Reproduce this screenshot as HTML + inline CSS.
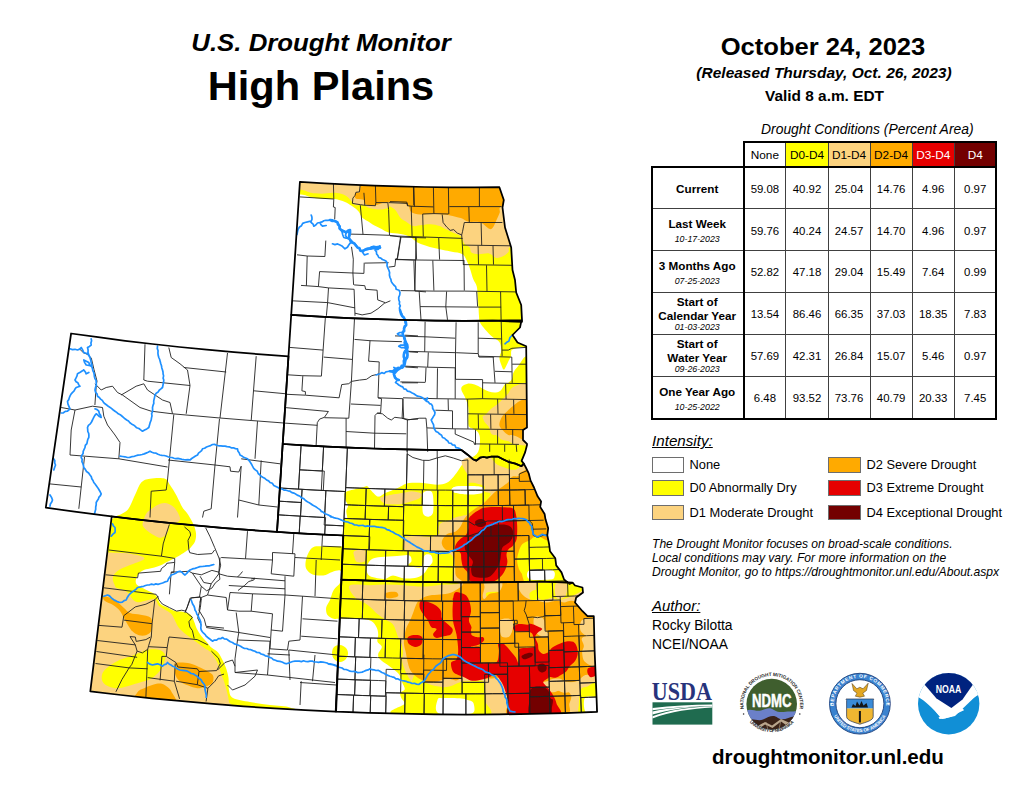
<!DOCTYPE html>
<html><head><meta charset="utf-8"><title>U.S. Drought Monitor - High Plains</title>
<style>
html,body{margin:0;padding:0;background:#fff}
body{width:1024px;height:791px;position:relative;overflow:hidden;font-family:"Liberation Sans",sans-serif;color:#000}
.t{position:absolute;white-space:nowrap;line-height:1}
.c{text-align:center}

</style></head><body>
<svg width="640" height="791" viewBox="0 0 640 791" style="position:absolute;left:0;top:0">
<defs><clipPath id="st">
<path d="M299.9 181.8 L324.8 183.3 L349.7 184.6 L374.6 185.7 L399.6 186.4 L424.6 187.0 L449.5 187.3 L474.5 187.4 L499.4 187.2 L503.8 200.0 L502.5 207.5 L505.0 227.5 L511.2 247.5 L512.5 270.0 L515.0 280.0 L516.2 292.5 L521.2 305.0 L522.0 320.0 L522.0 321.8 L492.7 320.7 L463.9 320.8 L435.1 320.6 L406.3 320.0 L377.5 319.2 L348.7 318.1 L319.9 316.7 L291.2 314.9Z"/>
<path d="M291.2 314.9 L319.9 316.7 L348.7 318.1 L377.5 319.2 L406.3 320.0 L435.1 320.6 L463.9 320.8 L492.7 320.7 L521.5 320.3 L520.0 327.5 L512.5 335.0 L517.5 342.5 L526.2 346.2 L527.0 427.5 L523.0 430.0 L523.0 440.0 L527.0 443.8 L527.0 445.0 L525.2 452.1 L521.6 460.9 L523.8 463.6 L521.5 466.2 L515.4 463.6 L508.3 461.8 L503.0 459.2 L497.7 456.5 L491.5 456.5 L487.0 457.7 L483.5 457.0 L480.0 457.7 L476.4 460.6 L472.9 459.2 L467.6 454.7 L463.1 451.2 L461.4 450.1 L439.1 450.0 L416.7 449.7 L394.4 449.2 L372.0 448.5 L349.7 447.6 L327.4 446.6 L305.0 445.4 L282.7 444.0Z"/>
<path d="M282.7 444.0 L305.0 445.4 L327.4 446.6 L349.7 447.6 L372.0 448.5 L394.4 449.2 L416.7 449.7 L439.1 450.0 L461.4 450.1 L463.1 451.2 L467.6 454.7 L472.9 459.2 L476.4 460.6 L480.0 457.7 L483.5 457.0 L487.0 457.7 L491.5 456.5 L497.7 456.5 L503.0 459.2 L508.3 461.8 L515.4 463.6 L521.5 466.2 L523.8 463.6 L526.1 468.0 L528.7 473.3 L530.5 480.4 L534.0 487.5 L537.6 496.3 L541.1 501.6 L540.2 506.9 L544.6 514.0 L545.5 519.3 L548.2 528.2 L547.3 535.3 L549.1 544.1 L550.0 551.2 L555.3 558.3 L556.2 565.4 L561.5 572.4 L564.1 579.5 L569.4 583.9 L572.5 582.8 L540.1 581.5 L511.7 582.0 L483.3 582.3 L454.9 582.3 L426.6 582.0 L398.2 581.5 L369.8 580.6 L341.4 579.6 L343.3 535.5 L321.2 534.5 L299.1 533.3 L277.0 531.9Z"/>
<path d="M341.4 579.6 L369.8 580.6 L398.2 581.5 L426.6 582.0 L454.9 582.3 L483.3 582.3 L511.7 582.0 L540.1 581.5 L572.5 582.5 L575.0 585.5 L582.5 587.5 L583.0 592.5 L576.2 597.5 L575.0 602.5 L582.5 611.2 L587.5 616.2 L593.8 616.2 L594.6 650.3 L595.9 681.1 L597.1 711.9 L564.5 713.1 L531.9 713.9 L499.2 714.4 L466.6 714.5 L433.9 714.3 L401.3 713.7 L368.7 712.9 L336.1 711.6Z"/>
<path d="M71.1 333.5 L98.1 337.2 L125.2 340.8 L152.4 344.0 L179.5 347.0 L206.7 349.7 L234.0 352.2 L261.2 354.4 L288.5 356.3 L285.6 400.1 L282.7 444.0 L279.9 488.0 L277.0 531.9 L248.0 529.9 L219.0 527.6 L190.1 525.0 L161.2 522.1 L132.3 518.9 L103.4 515.4 L74.6 511.7 L45.8 507.7Z"/>
<path d="M111.7 516.5 L140.5 519.8 L169.4 522.9 L198.3 525.7 L227.3 528.3 L256.3 530.5 L285.3 532.5 L314.3 534.1 L343.3 535.5 L341.4 579.6 L339.5 623.6 L337.6 667.6 L335.7 711.6 L305.3 710.2 L274.5 708.4 L243.7 706.3 L213.0 703.9 L182.3 701.2 L151.6 698.3 L120.9 695.0 L90.3 691.4Z"/>
</clipPath>
<clipPath id="cND"><path d="M299.9 181.8 L324.8 183.3 L349.7 184.6 L374.6 185.7 L399.6 186.4 L424.6 187.0 L449.5 187.3 L474.5 187.4 L499.4 187.2 L503.8 200.0 L502.5 207.5 L505.0 227.5 L511.2 247.5 L512.5 270.0 L515.0 280.0 L516.2 292.5 L521.2 305.0 L522.0 320.0 L522.0 321.8 L492.7 320.7 L463.9 320.8 L435.1 320.6 L406.3 320.0 L377.5 319.2 L348.7 318.1 L319.9 316.7 L291.2 314.9Z"/></clipPath>
<clipPath id="cSD"><path d="M291.2 314.9 L319.9 316.7 L348.7 318.1 L377.5 319.2 L406.3 320.0 L435.1 320.6 L463.9 320.8 L492.7 320.7 L521.5 320.3 L520.0 327.5 L512.5 335.0 L517.5 342.5 L526.2 346.2 L527.0 427.5 L523.0 430.0 L523.0 440.0 L527.0 443.8 L527.0 445.0 L525.2 452.1 L521.6 460.9 L523.8 463.6 L521.5 466.2 L515.4 463.6 L508.3 461.8 L503.0 459.2 L497.7 456.5 L491.5 456.5 L487.0 457.7 L483.5 457.0 L480.0 457.7 L476.4 460.6 L472.9 459.2 L467.6 454.7 L463.1 451.2 L461.4 450.1 L439.1 450.0 L416.7 449.7 L394.4 449.2 L372.0 448.5 L349.7 447.6 L327.4 446.6 L305.0 445.4 L282.7 444.0Z"/></clipPath>
<clipPath id="cNE"><path d="M282.7 444.0 L305.0 445.4 L327.4 446.6 L349.7 447.6 L372.0 448.5 L394.4 449.2 L416.7 449.7 L439.1 450.0 L461.4 450.1 L463.1 451.2 L467.6 454.7 L472.9 459.2 L476.4 460.6 L480.0 457.7 L483.5 457.0 L487.0 457.7 L491.5 456.5 L497.7 456.5 L503.0 459.2 L508.3 461.8 L515.4 463.6 L521.5 466.2 L523.8 463.6 L526.1 468.0 L528.7 473.3 L530.5 480.4 L534.0 487.5 L537.6 496.3 L541.1 501.6 L540.2 506.9 L544.6 514.0 L545.5 519.3 L548.2 528.2 L547.3 535.3 L549.1 544.1 L550.0 551.2 L555.3 558.3 L556.2 565.4 L561.5 572.4 L564.1 579.5 L569.4 583.9 L572.5 582.8 L540.1 581.5 L511.7 582.0 L483.3 582.3 L454.9 582.3 L426.6 582.0 L398.2 581.5 L369.8 580.6 L341.4 579.6 L343.3 535.5 L321.2 534.5 L299.1 533.3 L277.0 531.9Z"/></clipPath>
<clipPath id="cKS"><path d="M341.4 579.6 L369.8 580.6 L398.2 581.5 L426.6 582.0 L454.9 582.3 L483.3 582.3 L511.7 582.0 L540.1 581.5 L572.5 582.5 L575.0 585.5 L582.5 587.5 L583.0 592.5 L576.2 597.5 L575.0 602.5 L582.5 611.2 L587.5 616.2 L593.8 616.2 L594.6 650.3 L595.9 681.1 L597.1 711.9 L564.5 713.1 L531.9 713.9 L499.2 714.4 L466.6 714.5 L433.9 714.3 L401.3 713.7 L368.7 712.9 L336.1 711.6Z"/></clipPath>
<clipPath id="cWY"><path d="M71.1 333.5 L98.1 337.2 L125.2 340.8 L152.4 344.0 L179.5 347.0 L206.7 349.7 L234.0 352.2 L261.2 354.4 L288.5 356.3 L285.6 400.1 L282.7 444.0 L279.9 488.0 L277.0 531.9 L248.0 529.9 L219.0 527.6 L190.1 525.0 L161.2 522.1 L132.3 518.9 L103.4 515.4 L74.6 511.7 L45.8 507.7Z"/></clipPath>
<clipPath id="cCO"><path d="M111.7 516.5 L140.5 519.8 L169.4 522.9 L198.3 525.7 L227.3 528.3 L256.3 530.5 L285.3 532.5 L314.3 534.1 L343.3 535.5 L341.4 579.6 L339.5 623.6 L337.6 667.6 L335.7 711.6 L305.3 710.2 L274.5 708.4 L243.7 706.3 L213.0 703.9 L182.3 701.2 L151.6 698.3 L120.9 695.0 L90.3 691.4Z"/></clipPath>
<clipPath id="cNEKS"><path d="M282.7 444.0 L305.0 445.4 L327.4 446.6 L349.7 447.6 L372.0 448.5 L394.4 449.2 L416.7 449.7 L439.1 450.0 L461.4 450.1 L463.1 451.2 L467.6 454.7 L472.9 459.2 L476.4 460.6 L480.0 457.7 L483.5 457.0 L487.0 457.7 L491.5 456.5 L497.7 456.5 L503.0 459.2 L508.3 461.8 L515.4 463.6 L521.5 466.2 L523.8 463.6 L526.1 468.0 L528.7 473.3 L530.5 480.4 L534.0 487.5 L537.6 496.3 L541.1 501.6 L540.2 506.9 L544.6 514.0 L545.5 519.3 L548.2 528.2 L547.3 535.3 L549.1 544.1 L550.0 551.2 L555.3 558.3 L556.2 565.4 L561.5 572.4 L564.1 579.5 L569.4 583.9 L572.5 582.8 L540.1 581.5 L511.7 582.0 L483.3 582.3 L454.9 582.3 L426.6 582.0 L398.2 581.5 L369.8 580.6 L341.4 579.6 L343.3 535.5 L321.2 534.5 L299.1 533.3 L277.0 531.9Z"/><path d="M341.4 579.6 L369.8 580.6 L398.2 581.5 L426.6 582.0 L454.9 582.3 L483.3 582.3 L511.7 582.0 L540.1 581.5 L572.5 582.5 L575.0 585.5 L582.5 587.5 L583.0 592.5 L576.2 597.5 L575.0 602.5 L582.5 611.2 L587.5 616.2 L593.8 616.2 L594.6 650.3 L595.9 681.1 L597.1 711.9 L564.5 713.1 L531.9 713.9 L499.2 714.4 L466.6 714.5 L433.9 714.3 L401.3 713.7 L368.7 712.9 L336.1 711.6Z"/></clipPath>
<clipPath id="cNDSD"><path d="M299.9 181.8 L324.8 183.3 L349.7 184.6 L374.6 185.7 L399.6 186.4 L424.6 187.0 L449.5 187.3 L474.5 187.4 L499.4 187.2 L503.8 200.0 L502.5 207.5 L505.0 227.5 L511.2 247.5 L512.5 270.0 L515.0 280.0 L516.2 292.5 L521.2 305.0 L522.0 320.0 L522.0 321.8 L492.7 320.7 L463.9 320.8 L435.1 320.6 L406.3 320.0 L377.5 319.2 L348.7 318.1 L319.9 316.7 L291.2 314.9Z"/><path d="M291.2 314.9 L319.9 316.7 L348.7 318.1 L377.5 319.2 L406.3 320.0 L435.1 320.6 L463.9 320.8 L492.7 320.7 L521.5 320.3 L520.0 327.5 L512.5 335.0 L517.5 342.5 L526.2 346.2 L527.0 427.5 L523.0 430.0 L523.0 440.0 L527.0 443.8 L527.0 445.0 L525.2 452.1 L521.6 460.9 L523.8 463.6 L521.5 466.2 L515.4 463.6 L508.3 461.8 L503.0 459.2 L497.7 456.5 L491.5 456.5 L487.0 457.7 L483.5 457.0 L480.0 457.7 L476.4 460.6 L472.9 459.2 L467.6 454.7 L463.1 451.2 L461.4 450.1 L439.1 450.0 L416.7 449.7 L394.4 449.2 L372.0 448.5 L349.7 447.6 L327.4 446.6 L305.0 445.4 L282.7 444.0Z"/></clipPath>
<clipPath id="cWYCO"><path d="M71.1 333.5 L98.1 337.2 L125.2 340.8 L152.4 344.0 L179.5 347.0 L206.7 349.7 L234.0 352.2 L261.2 354.4 L288.5 356.3 L285.6 400.1 L282.7 444.0 L279.9 488.0 L277.0 531.9 L248.0 529.9 L219.0 527.6 L190.1 525.0 L161.2 522.1 L132.3 518.9 L103.4 515.4 L74.6 511.7 L45.8 507.7Z"/><path d="M111.7 516.5 L140.5 519.8 L169.4 522.9 L198.3 525.7 L227.3 528.3 L256.3 530.5 L285.3 532.5 L314.3 534.1 L343.3 535.5 L341.4 579.6 L339.5 623.6 L337.6 667.6 L335.7 711.6 L305.3 710.2 L274.5 708.4 L243.7 706.3 L213.0 703.9 L182.3 701.2 L151.6 698.3 L120.9 695.0 L90.3 691.4Z"/></clipPath>
</defs>
<g clip-path="url(#st)">
<path d="M545.0 170.0 C500.8 140.5 324.2 166.0 280.0 170.0 C235.8 174.0 276.5 189.9 280.0 194.0 C283.5 198.1 295.9 194.1 301.0 194.6 C306.1 195.1 307.4 196.5 310.8 197.2 C314.2 197.9 317.7 198.4 321.4 198.7 C325.1 199.0 329.9 198.8 332.9 199.0 C335.8 199.2 336.9 199.3 339.1 199.9 C341.3 200.5 343.8 201.3 346.2 202.5 C348.6 203.7 351.2 205.5 353.3 207.0 C355.4 208.5 357.1 209.6 358.6 211.4 C360.1 213.2 360.6 216.0 362.1 217.6 C363.6 219.2 365.3 219.8 367.4 221.1 C369.5 222.4 372.1 224.3 374.5 225.6 C376.9 226.9 379.2 227.9 381.6 229.1 C384.0 230.3 385.5 231.8 388.7 232.6 C391.9 233.4 397.1 233.3 400.6 234.0 C404.1 234.7 406.9 235.3 409.5 236.6 C412.1 237.9 413.9 240.4 416.5 241.9 C419.1 243.4 422.4 244.5 425.4 245.5 C428.3 246.5 431.2 247.4 434.2 248.1 C437.1 248.8 440.2 249.3 443.1 249.9 C446.1 250.5 448.6 251.0 451.9 251.7 C455.1 252.4 459.9 252.4 462.6 254.3 C465.3 256.2 466.6 260.5 467.9 263.2 C469.2 265.9 469.6 267.6 470.5 270.3 C471.4 273.0 472.2 276.5 473.2 279.1 C474.2 281.8 476.0 283.6 476.7 286.2 C477.4 288.8 477.3 291.5 477.6 295.0 C477.9 298.5 478.3 303.9 478.5 307.4 C478.7 310.9 478.8 313.5 479.0 316.0 C479.2 318.5 478.9 320.3 480.0 322.6 C481.1 324.9 483.2 327.3 485.3 329.7 C487.4 332.1 490.0 334.7 492.3 336.8 C494.6 338.9 497.9 339.8 499.4 342.1 C500.9 344.5 501.2 348.2 501.2 350.9 C501.2 353.5 499.2 355.3 499.4 358.0 C499.5 360.7 501.4 365.0 502.1 366.9 C502.8 368.8 503.3 369.3 503.8 369.5 C504.3 369.7 504.4 369.3 505.2 368.0 C505.9 366.7 507.4 363.6 508.3 361.6 C509.2 359.6 510.3 358.1 510.9 356.2 C511.5 354.3 510.5 351.6 511.8 350.1 C513.1 348.6 516.5 347.8 518.9 347.4 C521.3 346.9 521.6 347.5 526.0 347.4 C530.4 347.3 541.8 376.6 545.0 347.0 C548.2 317.4 589.2 199.5 545.0 170.0Z" fill="#ffff00" clip-path="url(#cNDSD)"/>
<path d="M540.0 350.0 C524.3 351.0 528.9 354.6 526.0 356.2 C523.1 357.8 523.6 358.3 522.4 359.8 C521.2 361.3 520.4 363.0 518.9 365.1 C517.4 367.2 514.8 369.8 513.6 372.2 C512.4 374.6 512.7 377.5 511.8 379.3 C510.9 381.1 509.5 381.9 508.3 382.8 C507.1 383.7 505.9 383.4 504.7 384.6 C503.5 385.8 502.7 388.6 501.2 389.9 C499.7 391.2 498.0 392.2 495.9 392.5 C493.8 392.8 491.2 392.3 488.8 391.6 C486.4 390.9 484.1 389.3 481.7 388.1 C479.3 386.9 477.0 385.3 474.6 384.6 C472.2 383.9 469.7 383.4 467.6 383.7 C465.6 384.0 463.3 385.3 462.3 386.3 C461.3 387.3 461.0 388.1 461.4 389.9 C461.8 391.7 463.9 394.6 464.9 397.0 C465.9 399.4 467.0 401.6 467.6 404.0 C468.2 406.4 468.4 407.6 468.5 411.1 C468.6 414.7 467.8 422.4 468.5 425.3 C469.2 428.2 471.3 427.6 472.9 428.8 C474.5 430.0 477.0 430.6 478.2 432.4 C479.4 434.2 480.0 436.2 480.0 439.4 C480.0 442.6 479.7 448.6 478.2 451.8 C476.7 455.0 472.9 456.8 471.1 458.3 C469.3 459.8 469.1 459.9 467.6 460.9 C466.1 461.9 463.8 463.0 462.3 464.5 C460.8 466.0 460.2 467.7 458.7 469.8 C457.2 471.9 455.5 474.7 453.4 476.9 C451.3 479.1 448.9 481.8 446.3 483.1 C443.7 484.4 441.3 484.8 437.5 484.8 C433.7 484.8 428.0 483.4 423.3 483.1 C418.6 482.8 412.7 482.7 409.2 483.1 C405.7 483.5 404.3 484.8 402.1 485.7 C399.9 486.6 398.7 487.5 395.9 488.7 C393.1 489.9 388.2 491.8 385.3 493.1 C382.4 494.4 380.6 497.1 378.2 496.6 C375.8 496.2 372.9 492.1 371.1 490.4 C369.3 488.7 368.8 487.0 367.6 486.4 C366.4 485.8 366.9 486.2 364.0 486.9 C361.1 487.6 353.1 489.4 349.9 490.4 C346.7 491.4 345.3 491.5 344.6 493.1 C343.9 494.7 344.9 498.1 345.5 500.2 C346.1 502.3 348.0 503.7 348.1 505.5 C348.2 507.3 346.5 508.7 346.3 510.8 C346.1 512.9 347.6 516.4 347.2 517.9 C346.8 519.4 344.4 517.2 343.7 519.6 C343.0 522.0 343.0 528.6 342.8 532.0 C342.6 535.4 342.3 537.6 342.3 540.0 C342.3 542.4 346.0 545.2 342.8 546.2 C339.6 547.2 328.2 546.1 323.3 546.2 C318.4 546.4 316.1 545.9 313.6 547.1 C311.1 548.3 309.6 550.8 308.3 553.3 C307.0 555.8 305.9 559.5 305.6 562.1 C305.3 564.8 305.3 567.1 306.5 569.2 C307.7 571.3 309.9 573.5 312.7 574.5 C315.5 575.5 320.1 575.8 323.3 575.4 C326.6 575.0 329.4 572.7 332.2 571.9 C335.0 571.1 338.6 569.8 340.1 570.5 C341.6 571.2 341.0 573.9 341.0 576.0 C341.0 578.1 341.2 580.7 340.0 583.0 C338.8 585.3 335.4 587.2 333.7 590.0 C332.0 592.8 331.2 597.1 330.0 600.0 C328.8 602.9 326.6 605.0 326.2 607.5 C325.8 610.0 326.2 613.1 327.5 615.0 C328.8 616.9 331.4 618.1 333.7 618.7 C336.0 619.3 337.9 618.5 341.2 618.5 C344.5 618.5 350.3 618.5 353.5 618.5 C356.7 618.5 357.6 618.1 360.5 618.5 C363.4 618.9 368.5 619.6 371.2 621.1 C373.9 622.6 375.3 625.1 376.5 627.3 C377.7 629.5 378.1 632.0 378.2 634.4 C378.3 636.8 376.8 639.4 377.4 641.5 C378.0 643.6 381.7 644.7 381.8 646.8 C381.9 648.9 378.5 651.8 378.2 653.9 C377.9 656.0 378.5 657.4 380.0 659.2 C381.5 661.0 384.7 662.7 387.1 664.5 C389.5 666.3 392.1 668.0 394.2 669.8 C396.3 671.6 398.2 673.0 399.5 675.1 C400.8 677.2 401.2 679.8 402.1 682.2 C403.0 684.6 405.1 687.5 404.8 689.3 C404.5 691.1 401.0 691.3 400.4 692.8 C399.8 694.3 400.6 696.3 401.3 698.1 C402.0 699.9 403.9 700.4 404.8 703.4 C405.7 706.4 370.7 713.9 406.6 716.0 C442.5 718.1 584.4 777.0 620.0 716.0 C655.6 655.0 633.3 411.0 620.0 350.0 C606.7 289.0 555.7 349.0 540.0 350.0Z" fill="#ffff00"/>
<path d="M332.0 653.0 C332.0 651.0 332.7 648.3 334.0 647.0 C335.3 645.7 338.0 644.8 340.0 645.0 C342.0 645.2 344.7 646.5 346.0 648.0 C347.3 649.5 348.2 652.0 348.0 654.0 C347.8 656.0 346.5 658.7 345.0 660.0 C343.5 661.3 340.8 662.2 339.0 662.0 C337.2 661.8 335.2 660.5 334.0 659.0 C332.8 657.5 332.0 655.0 332.0 653.0Z" fill="#ffff00"/>
<path d="M100.0 535.0 C105.0 532.0 107.5 525.0 110.0 522.0 C112.5 519.0 112.1 519.0 115.0 517.0 C117.9 515.0 124.2 513.7 127.5 510.0 C130.8 506.3 132.7 499.6 135.0 495.0 C137.3 490.4 138.7 485.2 141.2 482.5 C143.7 479.8 146.0 479.3 150.0 478.7 C154.0 478.1 161.7 477.6 165.0 478.7 C168.3 479.8 168.1 482.3 170.0 485.0 C171.9 487.7 174.1 491.2 176.2 495.0 C178.3 498.8 180.8 504.7 182.5 507.5 C184.2 510.3 184.8 510.1 186.2 512.0 C187.6 513.9 189.4 516.7 190.7 519.1 C192.0 521.5 193.3 523.9 194.2 526.2 C195.1 528.6 195.8 530.7 196.0 533.2 C196.2 535.7 196.0 538.8 195.1 541.2 C194.2 543.6 192.3 545.6 190.7 547.4 C189.1 549.2 187.4 550.3 185.3 551.8 C183.2 553.3 180.4 555.0 178.3 556.2 C176.2 557.4 175.1 557.9 173.0 558.9 C170.9 559.9 168.3 561.2 165.9 562.4 C163.5 563.6 161.5 565.0 158.8 566.0 C156.1 567.0 152.6 567.9 149.9 568.6 C147.2 569.3 144.8 569.5 142.9 570.4 C141.0 571.3 139.6 572.3 138.4 573.9 C137.2 575.5 136.1 578.3 135.8 580.1 C135.5 581.9 135.8 583.4 136.7 584.6 C137.6 585.8 139.5 586.3 141.1 587.2 C142.7 588.1 144.3 588.9 146.4 589.9 C148.5 590.9 151.7 592.2 153.5 593.4 C155.3 594.6 155.8 595.2 157.0 597.0 C158.2 598.8 158.8 602.2 160.6 604.0 C162.4 605.8 165.2 606.4 167.6 607.6 C169.9 608.8 172.0 610.4 174.7 611.1 C177.4 611.8 180.9 611.4 183.6 612.0 C186.3 612.6 188.9 613.1 190.7 614.7 C192.5 616.3 193.2 619.4 194.2 621.7 C195.2 624.1 195.6 626.4 196.8 628.8 C198.0 631.2 199.7 633.8 201.3 635.9 C202.9 638.0 204.6 639.5 206.3 641.5 C208.0 643.5 209.4 645.7 211.4 647.6 C213.4 649.5 216.7 650.8 218.5 652.9 C220.3 655.0 221.2 657.5 222.5 660.0 C223.8 662.5 225.0 665.0 226.0 668.0 C227.0 671.0 228.0 674.3 228.5 678.0 C229.0 681.7 228.2 686.7 229.0 690.0 C229.8 693.3 229.5 696.0 233.0 698.0 C236.5 700.0 243.8 700.8 250.0 702.0 C256.2 703.2 263.3 704.1 270.0 705.0 C276.7 705.9 286.3 705.7 290.0 707.5 C293.7 709.3 327.0 714.6 292.0 716.0 C257.0 717.4 115.3 745.3 80.0 716.0 C44.7 686.7 76.7 570.2 80.0 540.0 C83.3 509.8 95.0 538.0 100.0 535.0Z" fill="#ffff00" clip-path="url(#cWYCO)"/>
<path d="M453.4 487.5 C455.5 486.5 461.1 486.1 465.8 486.1 C470.5 486.0 478.9 486.0 481.7 487.1 C484.5 488.2 484.7 491.6 482.6 492.8 C480.5 494.0 474.2 494.7 469.3 494.6 C464.5 494.4 456.1 493.1 453.4 491.9 C450.8 490.7 451.3 488.5 453.4 487.5Z" fill="#ffffff"/>
<path d="M423.3 492.8 C424.6 490.7 428.8 490.4 430.4 491.0 C432.0 491.6 432.6 492.8 433.1 496.3 C433.5 499.9 433.8 508.9 433.1 512.3 C432.3 515.7 430.3 516.4 428.6 516.7 C427.0 517.0 424.4 516.2 423.3 514.0 C422.3 511.8 422.4 507.0 422.4 503.4 C422.4 499.9 422.0 494.9 423.3 492.8Z" fill="#ffffff"/>
<path d="M367.0 566.0 C367.7 563.4 369.7 560.5 372.0 559.0 C374.3 557.5 376.8 557.5 381.0 557.0 C385.2 556.5 392.3 556.3 397.0 556.0 C401.7 555.7 406.6 554.4 409.0 555.2 C411.4 556.0 411.7 559.3 411.5 561.0 C411.3 562.7 407.4 564.5 408.0 565.5 C408.6 566.5 412.6 567.0 415.0 567.2 C417.4 567.4 420.9 568.5 422.5 566.5 C424.1 564.5 423.1 557.4 424.5 555.5 C425.9 553.6 429.7 554.1 431.0 555.2 C432.3 556.3 432.9 560.0 432.5 562.0 C432.1 564.0 429.9 565.1 428.5 567.0 C427.1 568.9 425.9 571.8 424.0 573.5 C422.1 575.2 420.2 576.7 417.0 577.5 C413.8 578.3 409.0 578.8 405.0 578.5 C401.0 578.2 396.2 575.5 393.0 575.5 C389.8 575.5 388.4 578.4 385.5 578.8 C382.6 579.2 378.4 578.5 375.5 577.8 C372.6 577.1 369.4 576.5 368.0 574.5 C366.6 572.5 366.3 568.6 367.0 566.0Z" fill="#ffffff" clip-path="url(#cNE)"/>
<path d="M528.7 570.7 C530.9 569.1 538.8 569.7 542.9 569.8 C547.0 569.8 551.6 569.8 553.5 571.0 C555.4 572.2 555.0 575.4 554.4 576.9 C553.8 578.3 554.1 579.1 550.0 579.5 C545.8 579.9 533.1 580.6 529.6 579.2 C526.1 577.7 526.5 572.2 528.7 570.7Z" fill="#ffffff"/>
<path d="M437.5 699.9 C438.4 697.4 439.2 698.3 443.7 698.1 C448.3 698.0 461.2 698.1 465.0 699.0 C468.7 699.9 466.2 701.1 466.4 703.4 C466.5 705.8 470.5 711.5 465.9 713.2 C461.2 714.8 443.1 715.4 438.4 713.2 C433.7 711.0 436.7 702.4 437.5 699.9Z" fill="#ffffff"/>
<path d="M584.8 698.1 C586.3 695.6 592.4 696.9 594.5 696.9 C596.6 696.9 596.7 695.6 597.2 698.1 C597.6 700.7 599.1 709.9 597.2 712.3 C595.3 714.6 587.7 714.6 585.7 712.3 C583.6 709.9 583.3 700.7 584.8 698.1Z" fill="#ffffff"/>
<path d="M456.5 699.9 C458.8 697.8 467.7 699.7 470.6 700.8 C473.6 701.8 473.9 704.0 474.2 706.1 C474.5 708.2 475.3 712.0 472.4 713.2 C469.4 714.3 459.1 715.4 456.5 713.2 C453.8 711.0 454.1 702.0 456.5 699.9Z" fill="#ffffff"/>
<path d="M530.0 170.0 C488.3 157.5 321.7 166.8 280.0 170.0 C238.3 173.2 276.5 185.7 280.0 189.0 C283.5 192.3 295.9 189.2 301.0 189.8 C306.1 190.4 307.4 192.2 310.8 192.8 C314.2 193.5 317.7 193.7 321.4 193.7 C325.1 193.7 329.6 192.8 332.9 192.8 C336.1 192.8 338.4 193.0 340.9 193.7 C343.4 194.4 345.7 195.4 347.9 197.2 C350.1 199.0 352.6 203.0 354.1 204.3 C355.6 205.6 355.2 205.0 356.8 205.2 C358.4 205.3 361.8 204.8 363.9 205.2 C366.0 205.6 366.5 207.2 369.2 207.9 C371.9 208.6 376.7 209.6 379.8 209.6 C382.9 209.6 386.1 208.4 387.8 207.9 C389.5 207.4 388.8 206.1 390.0 206.5 C391.2 206.9 393.5 208.2 395.3 210.1 C397.1 212.0 398.8 216.2 400.6 218.1 C402.4 220.0 403.8 220.3 405.9 221.6 C408.0 222.9 410.3 225.4 413.0 226.0 C415.7 226.6 418.9 225.4 421.9 225.1 C424.8 224.8 427.8 224.0 430.7 224.2 C433.6 224.3 437.0 225.1 439.6 226.0 C442.2 226.9 444.2 228.4 446.6 229.6 C449.0 230.8 451.3 231.9 453.7 233.1 C456.1 234.3 459.0 234.8 460.8 236.6 C462.6 238.4 462.8 241.9 464.3 243.7 C465.8 245.5 468.4 245.8 469.6 247.3 C470.8 248.8 469.9 251.4 471.4 252.6 C472.9 253.8 475.6 254.2 478.5 254.3 C481.4 254.5 486.2 252.9 489.1 253.5 C492.1 254.1 493.8 257.5 496.2 257.9 C498.6 258.3 501.2 257.1 503.3 256.1 C505.4 255.1 507.4 253.2 508.6 251.7 C509.8 250.2 506.8 248.4 510.4 247.3 C514.0 246.2 526.7 257.9 530.0 245.0 C533.3 232.1 571.7 182.5 530.0 170.0Z" fill="#fcd37f" clip-path="url(#cND)"/>
<path d="M545.0 382.0 C542.0 371.5 531.2 382.4 526.9 382.8 C522.5 383.2 521.4 383.7 518.9 384.6 C516.4 385.5 513.6 386.6 511.8 388.1 C510.0 389.6 509.8 391.6 508.3 393.4 C506.8 395.2 504.8 396.9 503.0 398.7 C501.2 400.5 499.6 402.4 497.7 404.0 C495.8 405.6 493.6 406.7 491.5 408.5 C489.4 410.3 486.8 413.4 485.3 414.7 C483.8 416.0 482.8 415.2 482.6 416.4 C482.5 417.6 483.4 419.9 484.4 421.7 C485.4 423.5 487.6 424.9 488.8 427.0 C490.0 429.1 490.0 432.6 491.5 434.1 C493.0 435.6 496.1 435.0 497.7 435.9 C499.3 436.8 499.4 438.5 501.2 439.4 C503.0 440.3 506.2 440.4 508.3 441.2 C510.4 441.9 511.8 443.3 513.6 443.9 C515.4 444.5 516.7 444.4 518.9 444.7 C521.1 445.0 522.5 445.4 526.9 445.6 C531.2 445.8 542.0 456.6 545.0 446.0 C548.0 435.4 548.0 392.5 545.0 382.0Z" fill="#fcd37f" clip-path="url(#cSD)"/>
<path d="M468.1 457.4 C453.7 460.6 468.0 471.2 468.1 476.9 C468.2 482.5 468.4 487.8 468.4 491.4 C468.4 494.9 468.2 494.5 468.1 498.1 C468.0 501.7 469.1 510.2 468.1 513.1 C467.1 516.1 464.4 515.1 462.3 515.8 C460.1 516.5 457.5 516.7 455.2 517.6 C452.8 518.5 450.5 520.2 448.1 521.1 C445.7 522.0 442.6 521.7 441.0 522.9 C439.4 524.1 438.7 526.4 438.4 528.2 C438.1 530.0 440.6 532.0 439.2 533.5 C437.9 535.0 433.6 536.6 430.4 537.0 C427.2 537.5 423.9 536.1 419.8 536.1 C415.6 536.1 408.3 536.3 405.6 537.0 C403.0 537.8 404.0 538.5 403.9 540.6 C403.7 542.6 403.3 547.7 404.7 549.4 C406.2 551.2 409.9 551.2 412.7 551.2 C415.5 551.2 418.6 549.4 421.6 549.4 C424.5 549.4 428.3 550.8 430.4 551.2 C432.5 551.5 431.0 551.3 433.9 551.5 C436.9 551.8 444.9 551.8 448.1 553.0 C451.3 554.1 452.4 555.6 453.4 558.3 C454.4 560.9 454.3 565.4 454.3 568.9 C454.3 572.4 453.3 576.6 453.4 579.5 C453.6 582.5 438.4 585.4 455.2 586.6 C472.0 587.8 537.8 608.1 554.3 586.6 C570.8 565.1 568.7 478.9 554.3 457.4 C539.9 435.9 482.5 454.1 468.1 457.4Z" fill="#fcd37f" clip-path="url(#cNE)"/>
<path d="M380.0 498.1 C380.5 496.8 383.9 496.3 387.9 495.4 C391.9 494.6 399.7 493.5 403.9 492.8 C408.0 492.1 409.8 491.2 412.7 491.4 C415.6 491.5 420.4 492.5 421.6 493.7 C422.7 494.8 421.5 496.8 419.8 498.1 C418.0 499.4 413.6 500.8 410.9 501.6 C408.3 502.5 406.5 503.0 403.9 503.4 C401.2 503.9 398.2 504.3 395.0 504.3 C391.8 504.3 386.9 504.4 384.4 503.4 C381.9 502.4 379.4 499.4 380.0 498.1Z" fill="#fcd37f" clip-path="url(#cNE)"/>
<path d="M354.3 551.1 C355.9 550.0 362.1 549.1 364.0 549.7 C366.0 550.4 365.7 553.1 365.8 555.0 C366.0 557.0 366.4 560.1 364.9 561.2 C363.4 562.4 358.7 562.9 357.0 562.1 C355.2 561.4 354.7 558.6 354.3 556.8 C353.9 555.0 352.7 552.3 354.3 551.1Z" fill="#fcd37f" clip-path="url(#cNE)"/>
<path d="M349.0 586.6 C349.5 585.4 350.1 584.7 353.5 584.5 C356.9 584.3 363.8 585.2 369.4 585.2 C375.0 585.2 381.2 584.5 387.1 584.5 C393.0 584.5 398.9 584.8 404.8 585.2 C410.7 585.6 416.6 586.7 422.5 586.6 C428.4 586.6 434.3 585.3 440.2 584.9 C446.1 584.4 453.2 584.6 457.9 584.0 C462.6 583.4 442.0 581.8 468.5 581.3 C495.1 580.9 592.4 558.6 617.2 581.3 C642.0 604.0 640.8 694.9 617.2 717.6 C593.6 740.3 499.5 722.3 475.6 717.6 C451.7 712.9 475.8 694.0 474.0 689.3 C472.2 684.5 467.1 688.7 465.0 689.3 C462.9 689.9 463.2 691.9 461.4 692.8 C459.7 693.8 457.3 694.1 454.4 694.9 C451.4 695.8 447.3 697.5 443.7 698.1 C440.2 698.7 436.4 699.1 433.1 698.5 C429.9 697.9 426.6 696.1 424.3 694.6 C421.9 693.0 420.7 691.0 419.0 689.3 C417.2 687.5 415.4 686.0 413.6 684.0 C411.9 681.9 409.8 679.2 408.3 676.9 C406.9 674.5 405.8 672.5 404.8 669.8 C403.8 667.2 402.4 663.9 402.1 661.0 C401.8 658.0 403.2 655.1 403.0 652.1 C402.9 649.2 402.1 645.9 401.3 643.3 C400.4 640.6 398.6 638.2 397.7 636.2 C396.8 634.1 396.8 632.9 395.9 630.9 C395.1 628.8 394.5 625.9 392.4 623.8 C390.3 621.7 386.2 620.2 383.6 618.5 C380.9 616.7 378.5 614.9 376.5 613.2 C374.4 611.4 373.2 609.6 371.2 607.9 C369.1 606.1 366.4 604.0 364.1 602.5 C361.7 601.1 359.2 600.8 357.0 599.0 C354.8 597.2 352.1 594.0 350.8 591.9 C349.5 589.9 348.6 587.9 349.0 586.6Z" fill="#fcd37f" clip-path="url(#cKS)"/>
<path d="M490.6 455.6 C491.5 454.6 497.9 456.4 501.2 457.4 C504.4 458.4 506.9 460.4 510.0 461.8 C513.1 463.2 519.2 464.6 519.8 465.9 C520.4 467.2 516.4 469.6 513.6 469.8 C510.8 470.0 505.9 468.2 503.0 467.1 C500.0 466.1 497.9 465.5 495.9 463.6 C493.8 461.7 489.7 456.7 490.6 455.6Z" fill="#ffff00" clip-path="url(#cNE)"/>
<path d="M466.7 485.0 C469.5 480.3 480.5 484.6 483.5 485.7 C486.5 486.8 483.4 490.0 484.6 491.4 C485.7 492.7 490.2 492.3 490.6 493.7 C491.0 495.1 488.8 498.0 487.0 499.9 C485.3 501.8 482.3 503.4 480.0 505.2 C477.6 506.9 475.1 509.1 472.9 510.5 C470.7 511.9 467.7 517.9 466.7 513.7 C465.6 509.4 463.9 489.7 466.7 485.0Z" fill="#ffff00" clip-path="url(#cNE)"/>
<path d="M453.4 487.5 C455.5 486.5 461.1 486.1 465.8 486.1 C470.5 486.0 478.9 486.0 481.7 487.1 C484.5 488.2 484.7 491.6 482.6 492.8 C480.5 494.0 474.2 494.7 469.3 494.6 C464.5 494.4 456.1 493.1 453.4 491.9 C450.8 490.7 451.3 488.5 453.4 487.5Z" fill="#ffffff"/>
<path d="M518.1 544.1 C519.5 542.4 522.2 541.8 525.2 540.6 C528.1 539.4 530.5 537.9 535.8 537.0 C541.1 536.2 552.3 527.0 557.0 535.3 C561.8 543.5 567.1 578.0 564.1 586.6 C561.2 595.1 545.2 586.9 539.3 586.6 C533.4 586.3 531.4 585.7 528.7 584.8 C526.1 583.9 525.2 582.9 523.4 581.3 C521.6 579.7 519.3 578.3 518.1 575.1 C516.9 571.8 516.6 565.8 516.3 561.8 C516.1 557.8 516.4 554.1 516.7 551.2 C517.0 548.2 516.7 545.9 518.1 544.1Z" fill="#ffff00" clip-path="url(#cNE)"/>
<path d="M528.7 570.7 C530.9 569.1 538.8 569.7 542.9 569.8 C547.0 569.8 551.6 569.8 553.5 571.0 C555.4 572.2 555.0 575.4 554.4 576.9 C553.8 578.3 554.1 579.1 550.0 579.5 C545.8 579.9 533.1 580.6 529.6 579.2 C526.1 577.7 526.5 572.2 528.7 570.7Z" fill="#ffffff"/>
<path d="M537.9 583.1 C540.5 581.9 547.2 583.0 552.0 583.1 C556.9 583.1 562.4 583.3 567.1 583.4 C571.8 583.6 577.5 583.1 580.4 584.0 C583.2 584.8 584.5 586.8 583.9 588.4 C583.3 590.0 579.8 592.1 576.8 593.7 C573.9 595.3 569.1 597.1 566.2 598.1 C563.2 599.2 561.5 599.9 559.1 599.9 C556.8 599.9 554.7 598.1 552.0 598.1 C549.4 598.1 545.6 600.0 543.2 599.9 C540.8 599.7 539.1 598.9 537.9 597.2 C536.7 595.6 536.1 592.5 536.1 590.2 C536.1 587.8 535.2 584.3 537.9 583.1Z" fill="#ffff00" clip-path="url(#cKS)"/>
<path d="M529.9 592.8 C530.8 591.2 534.9 589.1 536.1 590.2 C537.3 591.2 537.9 597.4 537.0 599.0 C536.1 600.6 532.0 600.9 530.8 599.9 C529.6 598.9 529.0 594.4 529.9 592.8Z" fill="#ffff00" clip-path="url(#cKS)"/>
<path d="M486.6 592.8 C488.2 591.8 495.4 591.5 498.1 591.9 C500.7 592.4 502.5 594.4 502.5 595.5 C502.5 596.5 500.4 597.7 498.1 598.1 C495.7 598.6 490.2 599.0 488.3 598.1 C486.4 597.2 484.9 593.8 486.6 592.8Z" fill="#ffff00" clip-path="url(#cKS)"/>
<path d="M555.6 584.0 C557.2 581.6 564.3 582.9 566.2 584.0 C568.1 585.0 567.4 587.9 567.1 590.2 C566.8 592.4 566.2 595.9 564.4 597.2 C562.6 598.6 557.9 600.3 556.5 598.1 C555.0 595.9 554.0 586.3 555.6 584.0Z" fill="#fcd37f" clip-path="url(#cKS)"/>
<path d="M414.0 675.1 C415.8 669.5 420.5 680.3 424.6 682.2 C428.7 684.1 434.6 685.9 438.8 686.6 C442.9 687.4 445.8 687.4 449.4 686.6 C452.9 685.9 456.5 683.1 460.0 682.2 C463.5 681.3 466.6 681.3 470.6 681.3 C474.6 681.3 481.5 679.1 483.9 682.2 C486.2 685.3 484.3 694.3 484.8 699.9 C485.2 705.5 498.4 713.2 486.6 715.8 C474.8 718.5 426.1 722.6 414.0 715.8 C401.9 709.0 412.2 680.7 414.0 675.1Z" fill="#ffff00" clip-path="url(#cKS)"/>
<path d="M437.5 699.9 C438.4 697.4 439.2 698.3 443.7 698.1 C448.3 698.0 461.2 698.1 465.0 699.0 C468.7 699.9 466.2 701.1 466.4 703.4 C466.5 705.8 470.5 711.5 465.9 713.2 C461.2 714.8 443.1 715.4 438.4 713.2 C433.7 711.0 436.7 702.4 437.5 699.9Z" fill="#ffffff"/>
<path d="M456.5 699.9 C458.8 697.8 467.7 699.7 470.6 700.8 C473.6 701.8 473.9 704.0 474.2 706.1 C474.5 708.2 475.3 712.0 472.4 713.2 C469.4 714.3 459.1 715.4 456.5 713.2 C453.8 711.0 454.1 702.0 456.5 699.9Z" fill="#ffffff"/>
<path d="M581.2 689.3 C582.7 686.5 585.2 687.8 587.4 686.6 C589.6 685.4 592.1 683.2 594.5 682.2 C596.9 681.2 600.4 674.8 601.6 680.4 C602.8 686.0 605.1 709.9 601.6 715.8 C598.1 721.7 584.1 717.9 580.4 715.8 C576.6 713.8 578.8 707.9 578.9 703.4 C579.1 699.0 579.8 692.1 581.2 689.3Z" fill="#ffff00" clip-path="url(#cKS)"/>
<path d="M584.8 698.1 C586.3 695.6 592.4 696.9 594.5 696.9 C596.6 696.9 596.7 695.6 597.2 698.1 C597.6 700.7 599.1 709.9 597.2 712.3 C595.3 714.6 587.7 714.6 585.7 712.3 C583.6 709.9 583.3 700.7 584.8 698.1Z" fill="#ffffff"/>
<path d="M143.0 522.0 C143.5 520.0 144.8 516.0 146.0 514.0 C147.2 512.0 148.1 511.5 150.0 510.0 C151.9 508.5 155.0 506.2 157.5 505.0 C160.0 503.8 162.5 502.8 165.0 503.0 C167.5 503.2 170.4 504.5 172.5 506.0 C174.6 507.5 176.2 509.8 177.5 512.0 C178.8 514.2 180.2 517.2 180.0 519.0 C179.8 520.8 178.3 521.7 176.5 522.6 C174.7 523.5 170.7 523.2 169.4 524.4 C168.1 525.6 169.1 527.9 168.5 529.7 C167.9 531.5 167.2 533.7 165.9 535.0 C164.6 536.3 162.4 537.6 160.6 537.7 C158.8 537.9 157.4 536.9 155.3 535.9 C153.2 534.9 150.2 533.1 148.2 531.5 C146.1 529.9 143.9 527.8 143.0 526.2 C142.1 524.6 142.5 524.0 143.0 522.0Z" fill="#fcd37f" clip-path="url(#cWYCO)"/>
<path d="M80.0 551.0 C84.8 523.7 101.4 552.0 108.9 552.4 C116.4 552.8 119.8 552.5 125.2 553.1 C130.6 553.7 138.0 555.2 141.1 556.2 C144.2 557.2 145.3 558.1 143.8 559.4 C142.3 560.7 135.9 562.7 132.2 564.2 C128.5 565.7 124.5 567.0 121.6 568.6 C118.6 570.2 116.0 572.1 114.5 573.9 C113.0 575.7 112.8 577.5 112.8 579.3 C112.8 581.1 113.9 583.2 114.5 584.6 C115.1 586.0 114.8 586.9 116.3 587.8 C117.8 588.7 121.3 589.0 123.4 589.9 C125.5 590.8 127.2 591.9 128.7 593.4 C130.2 594.9 130.7 597.2 132.2 598.7 C133.7 600.2 135.2 602.0 137.6 602.3 C140.0 602.6 143.8 601.1 146.4 600.5 C149.1 599.9 151.9 598.7 153.5 598.7 C155.1 598.7 155.2 599.3 156.1 600.5 C157.0 601.7 157.5 604.3 158.8 605.8 C160.1 607.3 162.0 608.0 164.1 609.3 C166.2 610.6 169.4 612.0 171.2 613.8 C173.0 615.6 173.5 617.8 174.7 620.0 C175.9 622.2 176.8 624.9 178.3 627.0 C179.8 629.1 181.5 630.6 183.6 632.4 C185.7 634.2 188.3 635.9 190.7 637.7 C193.0 639.5 195.3 641.2 197.7 643.0 C200.0 644.8 202.7 646.8 204.8 648.3 C206.9 649.8 208.8 650.4 210.5 652.0 C212.2 653.6 213.7 656.0 215.0 658.2 C216.3 660.4 217.5 662.6 218.5 665.3 C219.5 667.9 220.3 671.5 221.2 674.1 C222.1 676.8 223.0 678.2 224.0 681.2 C225.0 684.2 226.2 688.5 227.0 692.0 C227.8 695.5 228.5 698.0 229.0 702.0 C229.5 706.0 254.8 713.7 230.0 716.0 C205.2 718.3 105.0 743.5 80.0 716.0 C55.0 688.5 75.2 578.3 80.0 551.0Z" fill="#fcd37f" clip-path="url(#cCO)"/>
<path d="M101.7 677.7 C101.7 675.8 102.0 673.6 103.5 671.5 C105.0 669.4 107.8 667.2 110.5 665.3 C113.2 663.4 116.2 661.5 119.4 660.0 C122.7 658.5 126.8 657.6 130.0 656.4 C133.2 655.2 136.2 653.9 138.9 652.9 C141.6 651.9 143.2 650.8 145.9 650.2 C148.6 649.6 152.1 649.1 154.8 649.3 C157.5 649.4 160.1 649.9 161.9 651.1 C163.7 652.3 165.1 654.3 165.4 656.4 C165.7 658.5 164.5 661.1 163.6 663.5 C162.7 665.9 161.6 668.5 160.1 670.6 C158.6 672.7 156.6 674.4 154.8 675.9 C153.0 677.4 151.3 678.5 149.5 679.4 C147.7 680.3 146.6 680.5 144.2 681.2 C141.8 681.9 138.2 682.9 135.3 683.8 C132.4 684.7 129.4 685.8 126.5 686.5 C123.5 687.2 120.5 688.3 117.6 688.3 C114.6 688.3 111.1 687.4 108.8 686.5 C106.5 685.6 104.7 684.5 103.5 683.0 C102.3 681.5 101.7 679.6 101.7 677.7Z" fill="#ffff00" clip-path="url(#cCO)"/>
<path d="M360.3 170.0 C332.0 172.3 360.4 180.3 360.3 184.0 C360.2 187.7 360.2 190.4 359.5 191.9 C358.8 193.4 356.7 192.1 355.9 192.8 C355.1 193.6 354.5 195.4 354.7 196.4 C354.9 197.4 355.3 198.4 356.8 199.0 C358.3 199.6 362.4 199.0 363.9 199.9 C365.4 200.8 363.8 203.4 365.6 204.3 C367.4 205.2 371.2 205.5 374.5 205.2 C377.8 204.9 381.3 203.0 385.1 202.5 C388.9 202.0 393.3 201.7 397.1 202.1 C400.9 202.5 405.4 203.2 407.7 204.8 C410.0 206.4 409.1 210.3 411.2 211.9 C413.3 213.5 416.6 214.2 420.1 214.5 C423.7 214.8 428.7 213.6 432.5 213.6 C436.3 213.6 440.2 214.2 443.1 214.5 C446.1 214.8 447.2 214.8 450.2 215.4 C453.1 216.0 457.9 217.1 460.8 218.1 C463.8 219.1 464.6 220.9 467.9 221.6 C471.1 222.3 476.8 221.3 480.3 222.5 C483.8 223.7 487.0 227.8 489.1 228.7 C491.2 229.6 491.5 229.1 492.7 227.8 C493.9 226.5 495.0 223.2 496.2 220.7 C497.4 218.2 498.7 215.1 499.7 212.7 C500.7 210.3 497.3 207.9 502.4 206.5 C507.4 205.1 525.4 210.1 530.0 204.0 C534.6 197.9 558.3 175.7 530.0 170.0 C501.7 164.3 388.6 167.7 360.3 170.0Z" fill="#ffaa00" clip-path="url(#cND)"/>
<path d="M545.0 398.0 C542.0 390.8 530.9 398.3 526.9 398.7 C522.9 399.1 522.6 399.6 520.7 400.5 C518.8 401.4 517.2 402.7 515.4 404.0 C513.6 405.3 511.8 406.9 510.0 408.5 C508.2 410.1 506.2 412.2 504.7 413.8 C503.2 415.4 502.1 416.3 501.2 418.2 C500.3 420.1 499.1 423.2 499.4 425.3 C499.7 427.4 501.5 429.0 503.0 430.6 C504.5 432.2 506.2 434.1 508.3 435.0 C510.4 435.9 513.0 435.2 515.4 435.9 C517.8 436.6 520.5 438.5 522.4 439.4 C524.3 440.3 523.1 440.8 526.9 441.2 C530.7 441.6 542.0 449.2 545.0 442.0 C548.0 434.8 548.0 405.2 545.0 398.0Z" fill="#ffaa00" clip-path="url(#cSD)"/>
<path d="M554.3 462.7 C549.0 452.1 528.3 469.3 522.4 471.6 C516.5 473.8 520.7 475.1 518.9 476.0 C517.1 476.9 513.6 475.8 511.8 476.9 C510.0 477.9 510.0 480.4 508.3 482.2 C506.5 483.9 503.5 485.7 501.2 487.5 C498.8 489.2 496.2 491.0 494.1 492.8 C492.1 494.6 490.6 496.3 488.8 498.1 C487.0 499.9 485.6 501.8 483.5 503.4 C481.4 505.0 478.8 506.2 476.4 507.8 C474.1 509.5 471.4 511.2 469.3 513.1 C467.3 515.1 465.5 517.1 464.0 519.3 C462.6 521.6 462.0 524.4 460.5 526.4 C459.0 528.5 457.2 530.5 455.2 531.7 C453.1 532.9 450.2 532.3 448.1 533.5 C446.0 534.7 443.8 537.0 442.8 538.8 C441.8 540.6 441.5 542.4 441.9 544.1 C442.3 545.9 443.8 548.2 445.4 549.4 C447.1 550.6 450.2 549.7 451.6 551.2 C453.1 552.7 453.7 555.3 454.3 558.3 C454.9 561.2 454.9 565.9 455.2 568.9 C455.5 571.8 454.9 573.9 456.1 576.0 C457.2 578.0 460.3 579.5 462.3 581.3 C464.2 583.0 458.1 585.7 467.6 586.6 C477.0 587.5 509.7 588.4 518.9 586.6 C528.0 584.8 522.4 578.9 522.4 576.0 C522.4 573.0 519.8 571.5 518.9 568.9 C518.0 566.2 517.1 563.0 517.1 560.0 C517.1 557.1 518.0 553.8 518.9 551.2 C519.8 548.5 520.7 545.9 522.4 544.1 C524.2 542.4 527.1 541.9 529.5 540.6 C531.9 539.3 532.5 537.0 536.6 536.1 C540.7 535.3 551.3 547.5 554.3 535.3 C557.2 523.0 559.6 473.3 554.3 462.7Z" fill="#ffaa00" clip-path="url(#cNE)"/>
<path d="M422.5 598.1 C420.4 599.3 418.7 600.3 417.2 602.5 C415.7 604.8 414.8 608.4 413.6 611.4 C412.5 614.4 411.3 617.6 410.1 620.2 C408.9 622.9 407.5 625.0 406.6 627.3 C405.7 629.7 405.2 631.8 404.8 634.4 C404.4 637.1 403.8 640.3 403.9 643.3 C404.1 646.2 405.1 649.2 405.7 652.1 C406.3 655.1 406.7 658.0 407.4 661.0 C408.2 663.9 408.8 667.3 410.1 669.8 C411.4 672.3 413.4 674.2 415.4 676.0 C417.5 677.8 420.1 679.4 422.5 680.4 C424.9 681.5 426.9 682.0 429.6 682.2 C432.2 682.3 435.5 681.9 438.4 681.3 C441.4 680.7 444.3 678.8 447.3 678.6 C450.2 678.5 453.8 680.7 456.1 680.4 C458.5 680.1 459.7 678.2 461.4 676.9 C463.2 675.6 464.6 672.8 466.7 672.5 C468.8 672.2 471.6 674.2 474.0 675.1 C476.4 676.0 478.3 677.2 480.9 677.8 C483.5 678.4 486.8 678.6 489.8 678.6 C492.7 678.6 496.2 677.5 498.6 677.8 C501.0 678.1 502.6 679.1 503.9 680.4 C505.2 681.7 505.8 683.7 506.6 685.7 C507.3 687.8 507.9 690.2 508.3 692.8 C508.8 695.5 508.9 697.8 509.2 701.7 C509.5 705.5 501.0 713.5 510.1 715.8 C519.3 718.2 554.2 717.9 564.1 715.8 C574.0 713.8 568.2 706.7 569.4 703.4 C570.6 700.2 571.5 698.4 571.2 696.4 C570.9 694.3 569.1 692.2 567.6 691.0 C566.2 689.9 564.4 689.1 562.3 689.3 C560.3 689.4 557.5 691.5 555.2 691.9 C553.0 692.4 551.1 692.4 549.0 691.9 C547.0 691.5 544.8 690.5 542.9 689.3 C540.9 688.0 537.5 685.5 537.5 684.3 C537.5 683.1 540.5 682.8 542.9 682.2 C545.2 681.5 548.5 680.6 551.7 680.4 C554.9 680.3 559.1 681.0 562.3 681.3 C565.6 681.6 568.5 682.3 571.2 682.2 C573.8 682.0 575.9 681.6 578.2 680.4 C580.6 679.2 582.7 676.2 585.3 675.1 C588.0 674.1 591.8 674.8 594.2 674.2 C596.5 673.6 598.6 677.6 599.5 671.6 C600.4 665.5 601.3 643.7 599.5 638.0 C597.7 632.2 591.8 637.9 588.9 637.1 C585.9 636.2 583.3 634.3 581.8 632.6 C580.3 631.0 580.0 629.4 580.0 627.3 C580.0 625.3 580.3 621.7 581.8 620.2 C583.3 618.8 585.9 618.9 588.9 618.5 C591.8 618.0 597.7 620.2 599.5 617.6 C601.3 614.9 602.4 605.1 599.5 602.5 C596.5 600.0 586.5 602.8 581.8 602.5 C577.1 602.3 574.1 600.8 571.2 600.8 C568.2 600.8 566.5 602.5 564.1 602.5 C561.7 602.5 560.0 600.8 557.0 600.8 C554.1 600.8 549.6 602.5 546.4 602.5 C543.1 602.5 540.5 601.4 537.5 600.8 C534.6 600.2 531.3 600.2 528.7 599.0 C526.0 597.8 523.4 595.8 521.6 593.7 C519.8 591.6 518.7 588.7 518.1 586.6 C517.5 584.6 520.4 582.2 518.1 581.3 C515.7 580.4 506.6 580.4 503.9 581.3 C501.3 582.2 503.0 584.9 502.1 586.6 C501.3 588.4 500.7 590.8 498.6 591.9 C496.5 593.1 492.1 592.5 489.8 593.7 C487.4 594.9 485.6 598.7 484.4 599.0 C483.3 599.3 482.7 597.5 482.7 595.5 C482.7 593.4 484.7 589.0 484.4 586.6 C484.1 584.3 484.1 582.2 480.9 581.3 C477.7 580.4 468.2 580.4 465.0 581.3 C461.7 582.2 463.8 584.7 461.4 586.6 C459.1 588.5 454.4 591.5 450.8 592.8 C447.3 594.1 443.7 594.1 440.2 594.6 C436.7 595.0 432.5 594.9 429.6 595.5 C426.6 596.1 424.6 596.9 422.5 598.1Z" fill="#ffaa00" clip-path="url(#cKS)"/>
<path d="M386.2 592.8 C387.7 591.8 394.0 591.3 395.9 591.9 C397.9 592.5 399.2 595.3 397.7 596.4 C396.2 597.4 389.0 598.7 387.1 598.1 C385.2 597.5 384.7 593.8 386.2 592.8Z" fill="#ffaa00" clip-path="url(#cKS)"/>
<path d="M499.8 620.2 C501.7 618.3 509.1 618.2 511.3 619.4 C513.5 620.5 513.4 624.5 513.1 627.3 C512.8 630.1 511.3 634.6 509.6 636.2 C507.8 637.8 504.1 637.9 502.5 637.1 C500.9 636.2 500.3 633.7 499.8 630.9 C499.4 628.1 497.9 622.2 499.8 620.2Z" fill="#fcd37f" clip-path="url(#cKS)"/>
<path d="M534.3 617.6 C535.8 615.8 541.4 616.6 543.2 618.5 C545.0 620.4 544.1 626.4 545.0 629.1 C545.8 631.8 548.5 633.1 548.5 634.4 C548.5 635.7 546.7 637.1 545.0 637.1 C543.2 637.1 539.6 635.7 537.9 634.4 C536.1 633.1 534.9 631.9 534.3 629.1 C533.8 626.3 532.9 619.4 534.3 617.6Z" fill="#fcd37f" clip-path="url(#cKS)"/>
<path d="M582.1 638.0 C583.9 636.5 592.3 632.6 594.5 637.1 C596.7 641.5 597.0 660.4 595.4 664.5 C593.8 668.6 587.0 663.9 584.8 661.8 C582.6 659.8 582.3 654.8 582.1 652.1 C582.0 649.5 583.9 648.3 583.9 645.9 C583.9 643.5 580.4 639.4 582.1 638.0Z" fill="#fcd37f" clip-path="url(#cKS)"/>
<path d="M549.4 680.4 C550.6 678.9 556.3 678.4 559.1 678.6 C561.9 678.9 563.8 681.5 566.2 682.2 C568.5 682.9 571.8 681.9 573.3 683.1 C574.7 684.3 576.2 687.6 575.0 689.3 C573.9 690.9 568.8 692.5 566.2 692.8 C563.5 693.1 561.5 691.9 559.1 691.0 C556.8 690.2 553.7 689.3 552.0 687.5 C550.4 685.7 548.2 681.9 549.4 680.4Z" fill="#fcd37f" clip-path="url(#cKS)"/>
<path d="M103.0 596.0 C103.9 595.5 107.9 596.8 110.5 598.0 C113.1 599.2 116.2 601.3 118.5 603.0 C120.8 604.7 122.1 606.3 124.0 608.0 C125.9 609.7 127.2 611.9 130.0 613.0 C132.8 614.1 137.2 614.0 140.6 614.8 C144.0 615.5 148.5 615.9 150.4 617.5 C152.3 619.1 152.0 622.2 152.1 624.6 C152.2 627.0 151.9 629.8 150.9 631.6 C149.9 633.4 147.9 634.6 145.9 635.2 C143.9 635.8 141.1 635.8 138.9 635.2 C136.7 634.6 134.5 633.2 132.7 631.6 C130.9 630.0 129.6 627.7 128.2 625.4 C126.7 623.1 125.4 620.4 124.0 618.0 C122.6 615.6 121.8 613.2 120.0 611.0 C118.2 608.8 115.5 606.7 113.0 605.0 C110.5 603.3 106.7 602.5 105.0 601.0 C103.3 599.5 102.1 596.5 103.0 596.0Z" fill="#ffaa00" clip-path="url(#cCO)"/>
<path d="M175.2 664.4 C175.9 662.5 177.1 662.8 179.6 662.6 C182.1 662.5 187.0 662.8 190.2 663.5 C193.4 664.2 196.1 665.7 199.0 667.0 C201.9 668.3 205.5 670.0 207.9 671.5 C210.3 673.0 212.5 674.0 213.2 675.9 C213.9 677.8 213.5 681.2 212.3 683.0 C211.1 684.8 208.6 685.6 206.1 686.5 C203.6 687.4 200.2 688.4 197.3 688.3 C194.4 688.1 191.4 686.8 188.4 685.6 C185.4 684.4 181.8 683.1 179.6 681.2 C177.4 679.3 175.9 676.9 175.2 674.1 C174.5 671.3 174.5 666.3 175.2 664.4Z" fill="#ffaa00" clip-path="url(#cCO)"/>
<path d="M137.1 692.7 C138.8 689.8 141.5 689.6 144.2 688.3 C146.8 687.0 150.1 685.5 153.0 684.7 C155.9 684.0 159.2 683.2 161.9 683.8 C164.6 684.4 167.2 686.7 169.0 688.3 C170.8 689.9 171.3 691.7 172.5 693.6 C173.7 695.5 175.2 697.4 176.0 699.8 C176.8 702.2 184.0 707.0 177.0 708.0 C170.0 709.0 140.7 708.5 134.0 706.0 C127.3 703.5 135.4 695.7 137.1 692.7Z" fill="#ffaa00" clip-path="url(#cCO)"/>
<path d="M483.5 507.8 C486.2 507.2 490.6 507.0 494.1 506.9 C497.7 506.9 501.5 507.0 504.7 507.3 C508.0 507.6 511.7 507.3 513.6 508.7 C515.5 510.1 515.6 513.1 516.2 515.8 C516.8 518.5 517.0 521.7 517.1 524.6 C517.3 527.6 517.3 530.8 517.1 533.5 C517.0 536.2 517.0 538.5 516.2 540.6 C515.5 542.6 514.0 544.4 512.7 545.9 C511.4 547.4 509.3 547.9 508.3 549.4 C507.2 550.9 506.6 552.7 506.5 554.7 C506.4 556.8 507.5 559.4 507.4 561.8 C507.2 564.2 506.7 566.5 505.6 568.9 C504.6 571.2 503.1 573.9 501.2 576.0 C499.3 578.0 497.1 580.0 494.1 581.3 C491.2 582.5 486.7 583.2 483.5 583.4 C480.3 583.6 477.0 583.1 474.6 582.5 C472.3 581.9 470.5 581.6 469.3 579.9 C468.2 578.2 468.6 574.6 467.6 572.4 C466.5 570.3 464.2 569.2 463.1 567.1 C462.1 565.1 461.8 562.4 461.4 560.0 C460.9 557.7 461.5 554.7 460.5 553.0 C459.5 551.2 455.9 550.9 455.2 549.4 C454.4 547.9 455.2 545.9 456.1 544.1 C456.9 542.4 458.9 540.3 460.5 538.8 C462.1 537.3 464.5 537.0 465.8 535.3 C467.1 533.5 468.0 530.8 468.4 528.2 C468.9 525.5 467.7 521.7 468.4 519.3 C469.2 517.0 471.3 515.5 472.9 514.0 C474.5 512.6 476.4 511.5 478.2 510.5 C480.0 509.5 480.8 508.4 483.5 507.8Z" fill="#e60000" clip-path="url(#cNE)"/>
<path d="M419.8 602.5 C420.3 601.4 420.9 600.8 422.5 600.8 C424.1 600.8 427.2 601.7 429.6 602.5 C431.9 603.4 434.7 604.6 436.6 606.1 C438.6 607.6 440.2 609.3 441.1 611.4 C442.0 613.5 440.9 616.4 442.0 618.5 C443.0 620.5 445.5 622.0 447.3 623.8 C449.0 625.6 452.0 627.3 452.6 629.1 C453.2 630.9 452.3 633.2 450.8 634.4 C449.3 635.6 446.1 635.6 443.7 636.2 C441.4 636.8 438.4 638.2 436.6 638.0 C434.9 637.7 433.1 635.9 433.1 634.4 C433.1 632.9 436.9 630.3 436.6 629.1 C436.4 627.9 432.8 628.8 431.4 627.3 C429.9 625.9 429.3 622.6 427.8 620.2 C426.3 617.9 423.8 615.2 422.5 613.2 C421.2 611.1 420.3 609.6 419.8 607.9 C419.4 606.1 419.4 603.7 419.8 602.5Z" fill="#e60000" clip-path="url(#cKS)"/>
<path d="M452.6 599.0 C452.9 597.7 456.4 596.1 457.9 596.4 C459.4 596.6 460.8 598.3 461.4 600.8 C462.0 603.3 460.8 608.4 461.4 611.4 C462.0 614.4 463.5 615.8 465.0 618.5 C466.4 621.1 469.2 624.4 470.3 627.3 C471.3 630.3 471.5 634.4 471.2 636.2 C470.9 637.9 469.8 638.5 468.5 638.0 C467.2 637.4 465.0 634.1 463.2 632.6 C461.4 631.2 459.1 631.2 457.9 629.1 C456.7 627.0 456.6 623.2 456.1 620.2 C455.7 617.3 455.2 614.1 455.2 611.4 C455.2 608.7 456.6 606.4 456.1 604.3 C455.7 602.3 452.3 600.3 452.6 599.0Z" fill="#e60000" clip-path="url(#cKS)"/>
<path d="M407.4 638.0 C408.0 636.6 410.0 635.7 411.9 635.3 C413.8 634.8 417.2 634.8 419.0 635.3 C420.7 635.7 422.1 636.5 422.5 638.0 C422.9 639.4 422.5 642.7 421.6 644.1 C420.7 645.6 418.8 646.5 417.2 646.8 C415.6 647.1 413.4 646.5 411.9 645.9 C410.4 645.3 409.1 644.6 408.3 643.3 C407.6 641.9 406.9 639.3 407.4 638.0Z" fill="#e60000" clip-path="url(#cKS)"/>
<path d="M454.7 592.8 C455.9 591.2 458.1 592.4 460.0 592.8 C461.9 593.3 464.6 593.8 466.2 595.5 C467.8 597.1 468.9 599.9 469.7 602.5 C470.5 605.2 471.1 608.4 471.0 611.4 C470.8 614.4 468.8 617.6 468.9 620.2 C468.9 622.9 471.3 625.1 471.5 627.3 C471.7 629.5 469.5 631.9 470.3 633.5 C471.0 635.1 473.9 636.5 475.9 637.1 C478.0 637.6 481.3 636.5 482.6 637.1 C484.0 637.6 484.6 639.3 483.9 640.6 C483.2 641.9 480.8 643.6 478.6 644.7 C476.4 645.7 470.5 646.4 470.6 646.8 C470.8 647.2 477.8 646.2 479.5 646.8 C481.2 647.4 480.7 648.0 480.9 650.3 C481.0 652.7 480.1 658.8 480.4 661.0 C480.6 663.1 480.8 662.7 482.1 663.1 C483.4 663.4 486.1 663.1 488.3 663.1 C490.5 663.0 493.8 663.4 495.4 662.7 C497.0 662.1 497.5 661.3 498.1 659.2 C498.6 657.1 498.9 652.8 498.9 650.3 C498.9 647.8 497.5 645.3 498.1 644.1 C498.6 643.0 501.0 642.8 502.5 643.3 C504.0 643.7 505.4 645.3 506.9 646.8 C508.4 648.3 509.9 650.3 511.3 652.1 C512.8 653.9 514.6 655.6 515.8 657.4 C516.9 659.2 517.8 663.3 518.4 662.7 C519.0 662.1 519.0 656.2 519.3 653.9 C519.6 651.5 517.7 649.8 520.2 648.6 C522.7 647.4 532.1 648.6 534.3 646.8 C536.6 645.0 534.0 640.3 533.5 638.0 C532.9 635.6 533.0 633.7 530.8 632.6 C528.6 631.6 522.8 632.0 520.2 631.8 C517.5 631.5 516.0 631.6 514.9 630.9 C513.7 630.1 512.5 628.5 513.1 627.3 C513.7 626.2 516.0 624.6 518.4 624.1 C520.8 623.7 525.2 624.7 527.3 624.7 C529.3 624.6 529.0 623.5 530.8 623.8 C532.6 624.1 536.0 625.6 537.9 626.4 C539.8 627.3 542.3 628.1 542.3 629.1 C542.3 630.1 539.1 631.3 537.9 632.6 C536.7 634.0 535.2 635.1 535.2 637.1 C535.2 639.0 537.3 641.9 537.9 644.1 C538.5 646.4 537.9 648.7 538.8 650.3 C539.6 652.0 541.6 653.6 543.2 653.9 C544.8 654.2 547.0 653.1 548.5 652.1 C550.0 651.1 550.3 649.0 552.0 647.7 C553.8 646.4 556.8 645.2 559.1 644.1 C561.5 643.1 563.8 641.9 566.2 641.5 C568.5 641.1 571.5 641.0 573.3 641.8 C575.0 642.7 576.1 644.8 576.8 646.8 C577.5 648.8 578.0 651.5 577.7 653.9 C577.4 656.2 576.4 658.9 575.0 661.0 C573.7 663.0 571.2 664.5 569.7 666.3 C568.3 668.0 567.7 670.1 566.2 671.6 C564.7 673.1 562.6 674.1 560.9 675.1 C559.1 676.2 557.3 677.5 555.6 677.8 C553.8 678.1 551.6 676.7 550.3 676.9 C548.9 677.0 548.8 677.8 547.6 678.6 C546.4 679.5 543.3 680.9 543.2 682.2 C543.0 683.5 545.6 685.1 546.7 686.6 C547.9 688.1 549.1 689.4 550.3 691.0 C551.4 692.7 552.8 694.3 553.8 696.4 C554.8 698.4 555.7 700.2 556.5 703.4 C557.2 706.7 565.8 713.8 558.2 715.8 C550.7 717.9 519.6 717.9 511.3 715.8 C503.1 713.8 509.5 707.0 508.7 703.4 C507.8 699.9 507.3 697.5 506.4 694.6 C505.5 691.6 504.5 688.2 503.4 685.7 C502.3 683.2 501.1 681.3 499.8 679.5 C498.5 677.8 497.6 675.3 495.4 675.1 C493.2 674.9 489.5 677.4 486.6 678.3 C483.6 679.2 480.4 680.1 477.7 680.4 C475.0 680.8 473.0 681.0 470.6 680.4 C468.3 679.8 465.6 677.8 463.5 676.9 C461.5 676.0 460.0 676.0 458.2 675.1 C456.5 674.2 454.1 673.6 452.9 671.6 C451.7 669.5 450.6 664.8 451.1 662.7 C451.7 660.7 455.3 661.3 456.5 659.2 C457.6 657.1 458.2 654.5 458.2 650.3 C458.2 646.2 457.3 639.4 456.5 634.4 C455.6 629.4 453.5 625.6 452.9 620.2 C452.3 614.9 452.6 607.1 452.9 602.5 C453.2 598.0 453.5 594.4 454.7 592.8Z" fill="#e60000" clip-path="url(#cKS)"/>
<path d="M588.3 668.0 C589.5 667.2 593.2 666.6 594.5 667.1 C595.8 667.7 596.2 670.1 596.3 671.6 C596.3 673.1 595.9 675.1 594.9 676.0 C593.8 676.9 591.3 677.5 590.1 676.9 C588.9 676.3 587.7 673.9 587.4 672.5 C587.1 671.0 587.1 668.9 588.3 668.0Z" fill="#e60000" clip-path="url(#cKS)"/>
<path d="M475.5 521.1 C476.3 520.2 478.5 519.1 480.0 519.0 C481.4 518.8 483.3 519.4 484.4 520.2 C485.4 521.0 486.3 522.7 486.1 523.8 C486.0 524.8 484.8 525.9 483.5 526.4 C482.2 526.9 479.5 527.1 478.2 526.8 C476.9 526.5 476.0 525.6 475.5 524.6 C475.1 523.7 474.8 522.1 475.5 521.1Z" fill="#730000" clip-path="url(#cNE)"/>
<path d="M484.4 528.2 C486.1 527.0 488.1 526.1 490.6 525.5 C493.1 524.9 496.5 524.6 499.4 524.6 C502.4 524.6 506.1 524.6 508.3 525.5 C510.5 526.4 512.0 528.0 512.7 530.0 C513.4 531.9 513.3 535.0 512.7 537.0 C512.1 539.1 510.8 540.7 509.2 542.4 C507.5 544.0 504.3 545.0 503.0 546.8 C501.6 548.5 501.6 550.7 501.2 553.0 C500.7 555.2 500.9 557.7 500.3 560.0 C499.7 562.4 498.7 565.1 497.6 567.1 C496.6 569.2 495.6 570.8 494.1 572.4 C492.6 574.1 491.2 576.0 488.8 576.9 C486.4 577.7 482.6 577.9 480.0 577.7 C477.3 577.6 474.4 577.4 472.9 576.0 C471.4 574.5 471.1 571.2 471.1 568.9 C471.1 566.5 473.2 563.9 472.9 561.8 C472.6 559.7 470.5 558.3 469.3 556.5 C468.2 554.7 466.5 553.0 465.8 551.2 C465.1 549.4 464.3 547.5 464.9 545.9 C465.5 544.3 467.7 542.9 469.3 541.5 C471.0 540.0 472.9 538.5 474.6 537.0 C476.4 535.6 478.3 534.1 480.0 532.6 C481.6 531.1 482.6 529.4 484.4 528.2Z" fill="#730000" clip-path="url(#cNE)"/>
<path d="M530.8 689.3 C531.8 688.2 534.0 687.0 536.1 686.6 C538.2 686.3 541.1 686.4 543.2 687.1 C545.3 687.9 547.3 689.2 548.5 691.0 C549.7 692.9 549.5 696.6 550.3 698.1 C551.0 699.6 552.6 698.4 552.9 699.9 C553.2 701.4 552.6 704.3 552.0 707.0 C551.4 709.6 553.1 714.3 549.4 715.8 C545.7 717.3 533.2 718.5 529.9 715.8 C526.6 713.2 529.4 703.7 529.4 699.9 C529.4 696.1 529.7 694.6 529.9 692.8 C530.1 691.0 529.8 690.3 530.8 689.3Z" fill="#730000" clip-path="url(#cKS)"/>
<path d="M522.0 655.6 C522.9 654.8 526.4 653.3 528.1 653.0 C529.9 652.6 532.0 652.9 532.6 653.5 C533.2 654.1 532.9 655.6 531.7 656.5 C530.5 657.5 527.1 658.9 525.5 659.2 C523.9 659.5 522.9 658.9 522.3 658.3 C521.7 657.7 521.0 656.5 522.0 655.6Z" fill="#730000" clip-path="url(#cKS)"/>
<path d="M537.9 665.4 C538.6 664.3 540.9 663.5 542.3 663.6 C543.7 663.8 545.8 665.1 546.4 666.3 C547.0 667.5 546.7 669.7 545.8 670.7 C545.0 671.7 542.7 672.6 541.4 672.5 C540.2 672.3 538.8 671.0 538.2 669.8 C537.6 668.6 537.2 666.4 537.9 665.4Z" fill="#730000" clip-path="url(#cKS)"/>
</g>
<g fill="none" stroke="#202020" stroke-width="0.9" stroke-linejoin="round" clip-path="url(#st)">
<path d="M341.4 579.6 L348.6 579.9 L355.8 580.1 L362.9 580.4 L362.3 599.4 L362.3 599.4 L355.1 599.1 L347.8 598.8 L340.6 598.5 L341.4 579.6 M362.9 580.4 L370.5 580.7 L378.0 580.9 L385.5 581.1 L385.0 600.1 L385.0 600.1 L377.4 599.9 L369.9 599.6 L362.3 599.4 L362.9 580.4 M385.5 581.1 L395.0 581.4 L404.4 581.6 L404.0 600.6 L404.0 600.6 L394.5 600.3 L385.0 600.1 L385.5 581.1 M404.4 581.6 L413.7 581.8 L422.9 582.0 L422.6 600.9 L422.6 600.9 L413.3 600.8 L404.0 600.6 L404.4 581.6 M422.9 582.0 L432.4 582.1 L441.8 582.2 L441.6 601.1 L441.6 601.1 L432.1 601.0 L422.6 600.9 L422.9 582.0 M441.8 582.2 L451.4 582.3 L461.0 582.3 L460.9 601.3 L460.9 601.3 L451.3 601.2 L441.6 601.1 L441.8 582.2 M461.0 582.3 L470.6 582.3 L480.2 582.3 L480.3 601.3 L480.3 601.3 L470.6 601.3 L460.9 601.3 L461.0 582.3 M480.2 582.3 L489.7 582.3 L499.1 582.2 L499.3 601.1 L499.3 601.1 L489.8 601.2 L480.3 601.3 L480.2 582.3 M499.1 582.2 L508.5 582.1 L518.0 582.0 L518.3 600.9 L518.3 600.9 L508.8 601.0 L499.3 601.1 L499.1 582.2 M518.0 582.0 L527.6 581.8 L537.2 581.6 L537.6 600.5 L537.6 600.5 L527.9 600.7 L518.3 600.9 L518.0 582.0 M537.2 581.6 L544.8 581.4 L552.3 581.2 L552.9 600.2 L552.9 600.2 L545.2 600.4 L537.6 600.5 L537.2 581.6 M552.3 581.2 L559.9 581.0 L567.5 580.8 L568.0 596.2 L568.0 596.2 L560.4 596.4 L552.8 596.6 L552.3 581.2 M340.6 598.5 L348.0 598.8 L355.5 599.1 L362.9 599.4 L362.3 618.8 L362.3 618.8 L354.8 618.5 L347.3 618.2 L339.8 617.9 L340.6 598.5 M362.9 599.4 L370.5 599.6 L378.1 599.9 L385.7 600.1 L385.1 619.5 L385.1 619.5 L377.5 619.3 L369.9 619.0 L362.3 618.8 L362.9 599.4 M385.7 600.1 L395.2 600.4 L404.7 600.6 L404.2 620.0 L404.2 620.0 L394.7 619.7 L385.1 619.5 L385.7 600.1 M404.7 600.6 L414.1 600.8 L423.6 600.9 L423.4 620.3 L423.4 620.3 L413.8 620.2 L404.2 620.0 L404.7 600.6 M423.6 600.9 L433.1 601.1 L442.6 601.2 L442.5 620.5 L442.5 620.5 L432.9 620.5 L423.4 620.3 L423.6 600.9 M442.6 601.2 L452.0 601.2 L461.3 601.3 L461.2 620.7 L461.2 620.7 L451.9 620.6 L442.5 620.5 L442.6 601.2 M461.3 601.3 L470.8 601.3 L480.3 601.3 L480.3 616.7 L480.3 616.7 L470.8 616.7 L461.2 616.7 L461.3 601.3 M480.3 601.3 L489.8 601.2 L499.3 601.1 L499.4 612.6 L499.4 612.6 L489.9 612.7 L480.3 612.7 L480.3 601.3 M499.3 601.1 L506.2 601.1 L513.2 601.0 L513.5 620.4 L513.5 620.4 L506.5 620.5 L499.5 620.5 L499.3 601.1 M544.4 600.4 L552.4 600.2 L560.3 600.0 L560.8 615.4 L560.8 615.4 L552.8 615.6 L544.8 615.8 L544.4 600.4 M339.8 617.9 L349.5 618.3 L359.2 618.6 L358.5 637.6 L358.5 637.6 L348.7 637.2 L338.9 636.8 L339.8 617.9 M359.2 618.6 L366.8 618.9 L374.4 619.2 L382.1 619.4 L381.5 638.3 L381.5 638.3 L373.8 638.1 L366.2 637.9 L358.5 637.6 L359.2 618.6 M382.1 619.4 L389.6 619.6 L397.1 619.8 L404.6 620.0 L404.2 638.9 L404.2 638.9 L396.6 638.7 L389.1 638.5 L381.5 638.3 L382.1 619.4 M404.6 620.0 L414.1 620.2 L423.7 620.3 L423.4 639.3 L423.4 639.3 L413.8 639.1 L404.2 638.9 L404.6 620.0 M423.7 620.3 L433.2 620.5 L442.8 620.6 L442.6 639.5 L442.6 639.5 L433.0 639.4 L423.4 639.3 L423.7 620.3 M442.8 620.6 L452.2 620.6 L461.6 620.7 L461.5 639.6 L461.5 639.6 L452.1 639.6 L442.6 639.5 L442.8 620.6 M461.6 616.7 L471.0 616.7 L480.3 616.7 L480.4 632.1 L480.4 632.1 L471.0 632.1 L461.5 632.1 L461.6 616.7 M480.3 612.7 L489.9 612.7 L499.4 612.6 L499.5 628.0 L499.5 628.0 L490.0 628.1 L480.4 628.2 L480.3 612.7 M480.4 628.2 L490.0 628.1 L499.5 628.0 L499.7 643.5 L499.7 643.5 L490.1 643.5 L480.4 643.6 L480.4 628.2 M499.5 620.5 L507.0 620.5 L514.5 620.4 L514.8 643.3 L514.8 643.3 L507.2 643.4 L499.7 643.5 L499.5 620.5 M338.9 636.8 L347.2 637.1 L355.4 637.5 L354.7 656.9 L354.7 656.9 L346.4 656.5 L338.1 656.2 L338.9 636.8 M355.4 637.5 L363.0 637.8 L370.5 638.0 L369.9 657.4 L369.9 657.4 L362.3 657.1 L354.7 656.9 L355.4 637.5 M370.5 638.0 L378.1 638.2 L385.6 638.5 L385.1 657.8 L385.1 657.8 L377.5 657.6 L369.9 657.4 L370.5 638.0 M385.6 638.5 L393.2 638.7 L400.7 638.8 L400.3 658.2 L400.3 658.2 L392.7 658.0 L385.1 657.8 L385.6 638.5 M400.7 638.8 L408.3 639.0 L415.8 639.1 L423.4 639.3 L423.1 658.6 L423.1 658.6 L415.5 658.5 L407.9 658.4 L400.3 658.2 L400.7 638.8 M423.4 639.3 L433.0 639.4 L442.6 639.5 L442.5 658.9 L442.5 658.9 L432.8 658.8 L423.1 658.6 L423.4 639.3 M442.6 639.5 L452.1 639.6 L461.5 639.6 L461.5 659.0 L461.5 659.0 L452.0 659.0 L442.5 658.9 L442.6 639.5 M461.5 632.1 L471.0 632.1 L480.4 632.1 L480.4 647.5 L480.4 647.5 L471.0 647.6 L461.5 647.5 L461.5 632.1 M461.5 647.5 L471.0 647.6 L480.4 647.5 L480.5 663.0 L480.5 663.0 L471.0 663.0 L461.4 663.0 L461.5 647.5 M480.4 643.6 L490.1 643.5 L499.7 643.5 L499.9 662.8 L499.9 662.8 L490.2 662.9 L480.5 663.0 L480.4 643.6 M499.7 643.5 L509.1 643.4 L518.6 643.2 L519.0 666.1 L519.0 666.1 L509.4 666.3 L499.9 666.4 L499.7 643.5 M518.7 647.2 L526.8 647.0 L534.8 646.9 L535.2 665.8 L535.2 665.8 L527.1 666.0 L519.0 666.1 L518.7 647.2 M534.6 637.2 L541.5 637.0 L548.4 636.9 L549.0 662.0 L549.0 662.0 L542.1 662.1 L535.2 662.3 L534.6 637.2 M548.2 631.1 L555.8 630.9 L563.3 630.7 L563.9 650.1 L563.9 650.1 L556.3 650.3 L548.7 650.5 L548.2 631.1 M563.5 636.5 L571.2 636.2 L578.9 635.9 L579.5 651.4 L579.5 651.4 L571.7 651.6 L563.9 651.9 L563.5 636.5 M578.9 635.9 L586.6 635.7 L594.3 635.4 L595.0 650.8 L595.0 650.8 L587.2 651.1 L579.5 651.4 L578.9 635.9 M548.7 650.5 L556.3 650.3 L563.9 650.1 L564.4 667.3 L564.4 667.3 L556.8 667.5 L549.1 667.7 L548.7 650.5 M563.9 651.9 L571.4 651.6 L578.8 651.4 L579.3 666.8 L579.3 666.8 L571.9 667.0 L564.4 667.3 L563.9 651.9 M578.8 651.4 L586.9 651.1 L595.0 650.8 L595.6 666.2 L595.6 666.2 L587.5 666.5 L579.3 666.8 L578.8 651.4 M338.1 656.2 L346.9 656.5 L355.7 656.9 L354.9 679.8 L354.9 679.8 L346.0 679.4 L337.1 679.1 L338.1 656.2 M355.7 656.9 L363.3 657.2 L370.9 657.4 L370.2 680.3 L370.2 680.3 L362.5 680.0 L354.9 679.8 L355.7 656.9 M401.0 658.2 L408.6 658.4 L416.2 658.5 L423.8 658.7 L423.6 674.1 L423.6 674.1 L415.9 674.0 L408.3 673.8 L400.6 673.6 L401.0 658.2 M401.0 673.7 L408.6 673.8 L416.3 674.0 L423.9 674.1 L423.6 693.5 L423.6 693.5 L415.9 693.3 L408.2 693.2 L400.6 693.0 L401.0 673.7 M423.6 670.1 L433.3 670.2 L443.1 670.4 L442.9 682.2 L442.9 682.2 L433.2 682.1 L423.4 682.0 L423.6 670.1 M443.1 658.9 L452.5 659.0 L461.8 659.0 L461.8 678.4 L461.8 678.4 L452.4 678.4 L443.0 678.3 L443.1 658.9 M423.8 682.0 L433.4 682.1 L442.9 682.2 L442.8 693.7 L442.8 693.7 L433.2 693.6 L423.6 693.5 L423.8 682.0 M443.0 678.3 L452.5 678.4 L462.1 678.4 L462.1 693.8 L462.1 693.8 L452.4 693.8 L442.8 693.7 L443.0 678.3 M461.8 663.0 L470.7 663.0 L479.6 663.0 L488.4 662.9 L488.6 682.3 L488.6 682.3 L479.6 682.4 L470.7 682.4 L461.8 682.4 L461.8 663.0 M488.4 662.9 L498.0 662.9 L507.5 662.8 L507.6 674.2 L507.6 674.2 L498.1 674.3 L488.5 674.4 L488.4 662.9 M462.1 682.4 L469.6 682.4 L477.2 682.4 L484.7 682.3 L484.8 693.8 L484.8 693.8 L477.2 693.8 L469.6 693.8 L462.1 693.8 L462.1 682.4 M484.7 674.4 L492.3 674.4 L500.0 674.3 L507.6 674.2 L507.9 693.6 L507.9 693.6 L500.2 693.7 L492.5 693.7 L484.8 693.8 L484.7 674.4 M507.5 666.3 L514.8 666.2 L522.1 666.1 L529.4 665.9 L529.9 693.2 L529.9 693.2 L522.5 693.4 L515.2 693.5 L507.9 693.6 L507.5 666.3 M529.4 665.9 L539.0 665.7 L548.8 665.5 L549.3 687.1 L549.3 687.1 L539.5 687.3 L529.8 687.5 L529.4 665.9 M548.8 667.7 L556.4 667.5 L564.1 667.3 L564.5 680.9 L564.5 680.9 L556.8 681.2 L549.1 681.4 L548.8 667.7 M564.1 667.3 L571.7 667.0 L579.3 666.8 L579.8 680.4 L579.8 680.4 L572.1 680.7 L564.5 680.9 L564.1 667.3 M579.3 666.8 L587.5 666.5 L595.6 666.2 L596.2 682.5 L596.2 682.5 L588.1 682.8 L579.9 683.1 L579.3 666.8 M529.8 687.5 L539.5 687.3 L549.3 687.1 L549.5 696.3 L549.5 696.3 L539.7 696.6 L529.9 696.8 L529.8 687.5 M549.1 681.4 L556.8 681.2 L564.5 680.9 L564.9 695.9 L564.9 695.9 L557.2 696.1 L549.5 696.3 L549.1 681.4 M564.5 680.9 L572.1 680.7 L579.8 680.4 L580.3 695.4 L580.3 695.4 L572.6 695.7 L564.9 695.9 L564.5 680.9 M579.9 683.1 L588.1 682.8 L596.2 682.5 L596.8 697.0 L596.8 697.0 L588.6 697.3 L580.4 697.6 L579.9 683.1 M337.1 679.1 L346.2 679.4 L355.2 679.8 L354.6 695.2 L354.6 695.2 L345.6 694.8 L336.5 694.5 L337.1 679.1 M355.2 679.8 L362.9 680.1 L370.5 680.3 L370.0 695.7 L370.0 695.7 L362.3 695.5 L354.6 695.2 L355.2 679.8 M370.5 680.3 L378.2 680.5 L385.9 680.8 L385.4 696.2 L385.4 696.2 L377.7 696.0 L370.0 695.7 L370.5 680.3 M336.5 694.5 L345.0 694.8 L353.6 695.1 L353.0 712.3 L353.0 712.3 L344.3 712.0 L335.7 711.6 L336.5 694.5 M353.6 695.1 L362.2 695.5 L370.7 695.7 L370.2 712.9 L370.2 712.9 L361.6 712.6 L353.0 712.3 L353.6 695.1 M370.7 695.7 L378.4 696.0 L386.1 696.2 L385.7 713.4 L385.7 713.4 L377.9 713.1 L370.2 712.9 L370.7 695.7 M386.2 692.7 L395.7 692.9 L405.1 693.1 L404.7 713.8 L404.7 713.8 L395.2 713.6 L385.7 713.4 L386.2 692.7 M405.1 693.1 L414.7 693.3 L424.3 693.5 L424.0 714.2 L424.0 714.2 L414.3 714.0 L404.7 713.8 L405.1 693.1 M424.3 693.5 L433.8 693.6 L443.2 693.7 L443.0 714.4 L443.0 714.4 L433.5 714.3 L424.0 714.2 L424.3 693.5 M443.2 693.7 L450.8 693.8 L458.3 693.8 L465.9 693.8 L465.9 714.5 L465.9 714.5 L458.3 714.5 L450.6 714.4 L443.0 714.4 L443.2 693.7 M465.9 693.8 L475.5 693.8 L485.1 693.8 L485.2 714.5 L485.2 714.5 L475.6 714.5 L465.9 714.5 L465.9 693.8 M485.1 693.8 L492.7 693.7 L500.3 693.7 L507.9 693.6 L508.1 714.3 L508.1 714.3 L500.5 714.4 L492.9 714.4 L485.2 714.5 L485.1 693.8 M507.9 693.6 L515.1 693.5 L522.3 693.4 L529.5 693.2 L529.9 713.9 L529.9 713.9 L522.6 714.1 L515.4 714.2 L508.1 714.3 L507.9 693.6 M529.6 696.8 L539.6 696.6 L549.5 696.3 L550.0 713.5 L550.0 713.5 L539.9 713.7 L529.9 713.9 L529.6 696.8 M549.5 696.3 L557.2 696.1 L564.9 695.9 L565.4 713.1 L565.4 713.1 L557.7 713.3 L550.0 713.5 L549.5 696.3 M564.9 695.9 L572.8 695.6 L580.7 695.4 L581.3 712.5 L581.3 712.5 L573.4 712.8 L565.4 713.1 L564.9 695.9 M580.7 697.6 L588.6 697.3 L596.5 697.0 L597.1 711.9 L597.1 711.9 L589.2 712.2 L581.3 712.5 L580.7 697.6 M401.0 658.2 L400.7 669.7 L386.2 669.3 L385.9 680.8 M385.9 680.8 L385.5 692.7 M385.5 692.7 L393.0 692.9 L400.6 693.0 M423.8 658.7 L423.9 654.7 M442.5 658.9 L446.6 658.9 L446.6 662.9 L446.5 670.4 L443.1 670.4 M568.0 596.2 L574.6 596.0 L581.2 595.7 M560.2 596.4 L560.5 606.6 L581.6 605.9 M560.5 606.6 L561.0 622.9 M573.4 606.1 L574.0 624.6 L584.0 624.3 L583.8 618.6 L593.6 618.2 M544.8 615.8 L560.8 615.4 M544.8 615.8 L545.1 631.2 L563.3 630.7 M561.0 622.9 L574.0 622.4 M563.4 622.8 L563.8 636.4 M578.5 624.5 L578.9 635.9 M534.6 637.2 L548.4 636.9 M529.2 624.1 L529.5 637.3 L534.6 637.2 M514.6 631.8 L529.4 631.6 M514.9 647.2 L518.7 647.2 M514.6 631.8 L514.9 647.2 M526.1 600.8 L525.5 606.1 L524.2 610.5 L526.3 614.9 L527.1 617.5 L532.5 617.0 L537.6 617.7 L542.7 616.7 L544.8 615.8 M513.5 620.4 L517.2 620.3 L517.3 623.8 L513.5 623.9 M527.1 617.5 L529.2 624.1 M513.5 623.9 L514.6 631.8 M544.4 600.4 L544.8 615.8 M282.7 444.0 L291.9 444.6 L301.1 445.2 L298.5 489.1 L298.5 489.1 L289.1 488.6 L279.9 488.0 L282.7 444.0 M301.1 445.2 L308.6 445.6 L316.1 446.0 L323.6 446.4 L322.3 471.0 L322.3 471.0 L314.7 470.6 L307.2 470.2 L299.6 469.8 L301.1 445.2 M299.6 469.8 L307.8 470.3 L316.0 470.7 L324.3 471.1 L323.3 490.5 L323.3 490.5 L315.0 490.1 L306.7 489.6 L298.5 489.1 L299.6 469.8 M323.6 446.4 L331.5 446.8 L339.4 447.2 L347.4 447.5 L345.5 491.5 L345.5 491.5 L337.4 491.2 L329.4 490.8 L321.3 490.4 L323.6 446.4 M279.9 488.0 L287.2 488.4 L294.6 488.9 L302.1 489.3 L301.3 502.5 L301.3 502.5 L293.9 502.1 L286.4 501.6 L279.0 501.2 L279.9 488.0 M279.0 501.2 L286.4 501.6 L293.9 502.1 L301.3 502.5 L300.5 516.2 L300.5 516.2 L293.0 515.7 L285.6 515.3 L278.1 514.8 L279.0 501.2 M278.1 514.8 L285.4 515.3 L292.8 515.7 L300.2 516.1 L299.2 533.3 L299.2 533.3 L291.8 532.9 L284.4 532.4 L277.0 531.9 L278.1 514.8 M302.1 489.3 L310.0 489.8 L317.9 490.2 L325.9 490.6 L324.6 517.5 L324.6 517.5 L316.6 517.1 L308.5 516.6 L300.5 516.2 L302.1 489.3 M300.2 516.1 L308.6 516.6 L317.1 517.1 L325.6 517.5 L324.7 534.7 L324.7 534.7 L316.2 534.2 L307.7 533.8 L299.2 533.3 L300.2 516.1 M325.9 490.6 L335.5 491.1 L345.2 491.5 L343.7 525.9 L343.7 525.9 L333.9 525.4 L324.2 525.0 L325.9 490.6 M325.2 525.0 L334.4 525.4 L343.7 525.9 L343.3 535.5 L343.3 535.5 L334.0 535.1 L324.7 534.7 L325.2 525.0 M347.4 447.5 L355.9 447.9 L364.5 448.2 L373.1 448.5 L381.6 448.8 L390.2 449.1 L398.7 449.3 L407.3 449.5 L406.4 489.5 L406.4 489.5 L397.7 489.3 L389.1 489.1 L380.4 488.9 L371.7 488.6 L363.0 488.3 L354.4 487.9 L345.7 487.6 L347.4 447.5 M345.7 487.6 L352.5 487.9 L359.4 488.1 L366.2 488.4 L365.6 505.5 L365.6 505.5 L358.7 505.3 L351.8 505.0 L344.9 504.7 L345.7 487.6 M366.2 488.4 L375.6 488.7 L384.9 489.0 L384.4 506.1 L384.4 506.1 L375.0 505.9 L365.6 505.5 L366.2 488.4 M384.9 489.0 L394.5 489.2 L404.1 489.5 L403.7 506.7 L403.7 506.7 L394.0 506.4 L384.4 506.1 L384.9 489.0 M344.6 504.7 L351.6 505.0 L358.6 505.3 L365.6 505.5 L365.1 519.2 L365.1 519.2 L358.1 518.9 L351.1 518.7 L344.0 518.4 L344.6 504.7 M365.6 505.5 L373.3 505.8 L381.0 506.1 L388.6 506.3 L388.2 519.9 L388.2 519.9 L380.5 519.7 L372.8 519.5 L365.1 519.2 L365.6 505.5 M388.6 506.3 L396.2 506.5 L403.7 506.7 L403.4 520.3 L403.4 520.3 L395.8 520.1 L388.2 519.9 L388.6 506.3 M344.0 518.4 L352.6 518.7 L361.2 519.0 L369.8 519.4 L369.2 536.5 L369.2 536.5 L360.6 536.2 L351.9 535.9 L343.3 535.5 L344.0 518.4 M369.8 519.4 L378.3 519.6 L386.8 519.9 L395.3 520.1 L403.8 520.3 L403.1 550.7 L403.1 550.7 L394.5 550.5 L385.9 550.3 L377.3 550.0 L368.7 549.8 L369.8 519.4 M343.3 535.5 L352.1 535.9 L361.0 536.2 L369.8 536.6 L369.4 549.8 L369.4 549.8 L360.5 549.5 L351.6 549.1 L342.7 548.7 L343.3 535.5 M342.7 548.7 L350.6 549.1 L358.5 549.4 L366.4 549.7 L365.9 565.1 L365.9 565.1 L357.9 564.8 L350.0 564.5 L342.1 564.2 L342.7 548.7 M366.4 549.7 L376.1 550.0 L385.7 550.3 L385.3 565.7 L385.3 565.7 L375.6 565.4 L365.9 565.1 L366.4 549.7 M385.7 550.3 L393.2 550.5 L400.6 550.7 L408.1 550.8 L407.8 566.2 L407.8 566.2 L400.3 566.1 L392.8 565.9 L385.3 565.7 L385.7 550.3 M342.1 564.2 L350.1 564.5 L358.1 564.8 L366.2 565.1 L365.6 580.5 L365.6 580.5 L357.6 580.2 L349.5 579.9 L341.4 579.6 L342.1 564.2 M366.2 565.1 L375.7 565.4 L385.3 565.7 L384.9 581.1 L384.9 581.1 L375.2 580.8 L365.6 580.5 L366.2 565.1 M385.3 565.7 L394.8 566.0 L404.4 566.2 L404.1 581.6 L404.1 581.6 L394.4 581.4 L384.9 581.1 L385.3 565.7 M403.5 489.5 L412.9 489.7 L422.4 489.8 L422.2 505.3 L422.2 505.3 L412.6 505.1 L403.1 504.9 L403.5 489.5 M422.4 489.8 L430.1 490.0 L437.8 490.1 L437.6 505.5 L437.6 505.5 L429.9 505.4 L422.2 505.3 L422.4 489.8 M437.8 490.1 L445.3 490.1 L452.8 490.2 L452.7 505.6 L452.7 505.6 L445.2 505.6 L437.6 505.5 L437.8 490.1 M452.8 490.2 L460.5 490.2 L468.2 490.2 L468.1 505.6 L468.1 505.6 L460.4 505.6 L452.7 505.6 L452.8 490.2 M403.8 504.9 L412.3 505.1 L420.9 505.2 L429.4 505.4 L437.9 505.5 L437.6 535.9 L437.6 535.9 L429.0 535.8 L420.3 535.6 L411.7 535.5 L403.1 535.3 L403.8 504.9 M437.9 505.5 L445.3 505.6 L452.7 505.6 L452.6 521.0 L452.6 521.0 L445.2 521.0 L437.8 520.9 L437.9 505.5 M452.7 505.6 L460.4 505.6 L468.1 505.6 L468.1 521.1 L468.1 521.1 L460.4 521.1 L452.6 521.0 L452.7 505.6 M437.8 520.9 L445.4 521.0 L452.9 521.0 L452.9 536.0 L452.9 536.0 L445.2 536.0 L437.6 535.9 L437.8 520.9 M452.9 521.0 L460.5 521.1 L468.1 521.1 L468.1 536.1 L468.1 536.1 L460.5 536.0 L452.9 536.0 L452.9 521.0 M404.1 535.3 L412.9 535.5 L421.8 535.7 L430.6 535.8 L430.4 551.2 L430.4 551.2 L421.5 551.1 L412.6 550.9 L403.7 550.7 L404.1 535.3 M430.6 535.8 L438.4 535.9 L446.1 536.0 L453.9 536.0 L453.8 551.4 L453.8 551.4 L446.0 551.4 L438.2 551.3 L430.4 551.2 L430.6 535.8 M453.9 536.0 L461.1 536.0 L468.5 536.1 L468.4 551.5 L468.4 551.5 L461.1 551.5 L453.8 551.4 L453.9 536.0 M408.1 550.8 L415.6 551.0 L423.1 551.1 L422.8 566.5 L422.8 566.5 L415.3 566.4 L407.8 566.2 L408.1 550.8 M423.1 551.1 L430.8 551.2 L438.4 551.3 L438.3 566.7 L438.3 566.7 L430.6 566.6 L422.8 566.5 L423.1 551.1 M438.4 551.3 L446.1 551.4 L453.8 551.4 L453.7 566.9 L453.7 566.9 L446.0 566.8 L438.3 566.7 L438.4 551.3 M453.8 551.4 L461.1 551.5 L468.4 551.5 L468.4 566.9 L468.4 566.9 L461.1 566.9 L453.7 566.9 L453.8 551.4 M468.4 551.5 L476.1 551.5 L483.8 551.5 L483.9 566.9 L483.9 566.9 L476.1 566.9 L468.4 566.9 L468.4 551.5 M483.8 551.5 L491.3 551.4 L498.8 551.4 L498.9 566.8 L498.9 566.8 L491.4 566.8 L483.9 566.9 L483.8 551.5 M498.8 551.4 L506.5 551.3 L514.1 551.2 L514.4 566.6 L514.4 566.6 L506.7 566.7 L498.9 566.8 L498.8 551.4 M404.4 566.2 L413.8 566.4 L423.2 566.5 L422.9 582.0 L422.9 582.0 L413.5 581.8 L404.1 581.6 L404.4 566.2 M423.2 566.5 L430.7 566.6 L438.3 566.7 L438.1 582.2 L438.1 582.2 L430.5 582.1 L422.9 582.0 L423.2 566.5 M438.3 566.7 L445.8 566.8 L453.4 566.9 L453.3 582.3 L453.3 582.3 L445.7 582.2 L438.1 582.2 L438.3 566.7 M453.4 566.9 L461.1 566.9 L468.8 566.9 L468.8 582.3 L468.8 582.3 L461.0 582.3 L453.3 582.3 L453.4 566.9 M468.8 566.9 L476.3 566.9 L483.9 566.9 L483.9 582.3 L483.9 582.3 L476.4 582.3 L468.8 582.3 L468.8 566.9 M483.9 566.9 L491.4 566.8 L498.9 566.8 L499.1 582.2 L499.1 582.2 L491.5 582.3 L483.9 582.3 L483.9 566.9 M498.9 566.8 L506.5 566.7 L514.0 566.6 L514.3 582.0 L514.3 582.0 L506.7 582.1 L499.1 582.2 L498.9 566.8 M467.8 474.8 L475.5 474.8 L483.1 474.8 L483.2 490.2 L483.2 490.2 L475.5 490.2 L467.8 490.2 L467.8 474.8 M483.1 474.8 L490.6 474.8 L498.1 474.7 L498.2 490.1 L498.2 490.1 L490.7 490.2 L483.2 490.2 L483.1 474.8 M498.1 474.7 L503.8 474.6 L509.4 474.6 L509.6 490.0 L509.6 490.0 L503.9 490.0 L498.2 490.1 L498.1 474.7 M468.2 490.2 L475.7 490.2 L483.2 490.2 L483.2 505.6 L483.2 505.6 L475.7 505.6 L468.1 505.6 L468.2 490.2 M483.2 490.2 L490.7 490.2 L498.2 490.1 L498.4 505.5 L498.4 505.5 L490.8 505.6 L483.2 505.6 L483.2 490.2 M498.2 490.1 L503.9 490.0 L509.6 490.0 L509.9 505.4 L509.9 505.4 L504.1 505.5 L498.4 505.5 L498.2 490.1 M509.6 490.0 L517.3 489.9 L525.0 489.7 L525.3 505.1 L525.3 505.1 L517.6 505.3 L509.9 505.4 L509.6 490.0 M502.3 505.5 L507.9 505.4 L513.5 505.3 L513.7 520.8 L513.7 520.8 L508.1 520.8 L502.5 520.9 L502.3 505.5 M513.5 505.3 L521.2 505.2 L528.9 505.1 L529.2 520.5 L529.2 520.5 L521.5 520.6 L513.7 520.8 L513.5 505.3 M498.5 520.9 L506.1 520.9 L513.7 520.8 L513.9 535.7 L513.9 535.7 L506.3 535.8 L498.6 535.9 L498.5 520.9 M468.5 536.1 L475.9 536.0 L483.4 536.0 L483.5 551.5 L483.5 551.5 L475.9 551.5 L468.4 551.5 L468.5 536.1 M483.4 536.0 L491.0 536.0 L498.6 535.9 L498.8 551.4 L498.8 551.4 L491.1 551.4 L483.5 551.5 L483.4 536.0 M498.6 535.9 L506.3 535.8 L513.9 535.7 L514.1 551.2 L514.1 551.2 L506.5 551.3 L498.8 551.4 L498.6 535.9 M513.9 535.7 L521.4 535.6 L528.9 535.5 L529.3 558.8 L529.3 558.8 L521.8 559.0 L514.3 559.1 L513.9 535.7 M514.3 559.1 L521.8 559.0 L529.3 558.8 L529.8 581.8 L529.8 581.8 L522.2 581.9 L514.6 582.0 L514.3 559.1 M529.3 558.8 L535.8 558.7 L542.4 558.5 L542.6 570.0 L542.6 570.0 L536.1 570.1 L529.5 570.3 L529.3 558.8 M529.5 570.3 L537.1 570.1 L544.6 570.0 L544.9 581.4 L544.9 581.4 L537.4 581.6 L529.8 581.8 L529.5 570.3 M407.2 453.9 L412.9 457.5 L422.6 460.3 L429.1 460.4 L437.2 457.9 L445.3 455.8 L453.3 458.0 L461.4 460.7 L467.9 459.9 M437.2 450.0 L437.2 457.9 M407.2 453.9 L406.4 489.5 M423.9 460.4 L423.4 489.9 M437.5 457.9 L437.1 490.1 M467.9 459.9 L467.8 582.3 M467.8 474.8 L476.2 474.8 L484.5 474.8 L492.8 474.7 L501.1 474.7 L509.4 474.6 M494.0 456.2 L494.2 474.7 M509.2 459.6 L509.6 490.0 M509.5 478.5 L519.3 478.4 L519.2 474.0 L526.9 470.7 M519.3 478.4 L519.3 481.4 L531.4 481.2 M509.6 490.0 L517.8 489.9 L526.0 489.7 L534.1 489.5 M525.0 489.7 L525.3 505.1 M525.3 505.1 L532.7 505.0 L540.1 504.8 M468.1 505.6 L483.2 505.6 M483.2 505.6 L502.3 505.5 M468.1 521.1 L474.4 525.0 L487.6 521.0 L498.5 520.9 M468.5 536.1 L477.7 533.0 L483.4 528.5 L490.9 525.0 L498.5 520.9 M483.2 505.6 L483.3 521.0 M483.4 528.5 L483.4 536.0 M490.9 525.0 L491.0 536.0 M513.7 520.8 L529.2 520.5 L532.2 523.5 L533.0 528.8 L533.2 535.4 L537.5 537.5 L544.1 535.1 L548.1 534.6 M529.2 520.5 L543.7 520.2 M533.0 529.2 L546.3 528.9 M528.9 535.5 L529.8 581.8 M513.9 535.7 L521.4 535.6 L528.9 535.5 M529.1 547.4 L536.1 547.2 L543.1 547.1 L550.1 546.9 M529.3 558.8 L537.8 558.6 L546.2 558.5 L554.7 558.2 M529.5 570.3 L537.2 570.1 L544.8 570.0 L552.5 569.8 L560.1 569.5 M544.6 570.0 L544.9 581.4 M325.4 317.0 L323.1 350.1 L321.4 376.1 M289.5 347.4 L323.1 350.1 M323.7 357.1 L352.0 359.4 M354.5 318.2 L351.4 381.4 L348.8 418.2 L346.1 418.2 L346.1 448.3 M287.7 374.8 L301.9 375.7 L321.4 376.1 M302.8 376.1 L301.9 390.8 L305.4 391.6 L305.4 394.8 M286.9 394.3 L305.4 395.2 L339.1 397.8 L341.7 384.6 L348.8 383.7 L351.4 381.4 M285.4 407.6 L328.4 411.5 L324.4 417.3 L319.6 419.1 L317.3 422.6 L316.1 445.6 M324.4 417.7 L346.1 418.2 M284.7 423.1 L317.3 425.3 M354.5 339.4 L370.0 340.7 L401.9 341.7 M370.0 340.7 L368.6 361.2 L379.2 361.9 L378.9 373.9 L378.0 397.8 L381.5 398.7 L380.6 412.9 L377.1 413.2 L375.0 415.5 L374.5 448.3 M351.4 381.4 L359.4 380.1 L366.5 379.3 L371.8 375.7 L378.9 373.9 M350.9 404.0 L380.6 405.4 M378.0 397.8 L402.8 398.7 L403.7 418.2 M377.1 413.2 L382.4 413.8 L387.7 418.2 L391.3 420.0 L394.8 417.3 L401.9 418.2 L409.0 419.6 L418.0 419.1 M346.1 431.5 L374.5 433.2 L406.3 433.8 M405.1 335.2 L418.0 335.9 M409.3 351.8 L418.0 352.4 M405.4 367.0 L418.0 367.8 M401.9 382.8 L418.0 382.8 M395.0 335.9 L425.1 336.8 L455.2 338.2 M425.1 321.7 L424.7 351.8 M456.1 322.3 L455.5 352.7 L455.5 379.3 M478.2 322.3 L478.2 353.6 L479.1 357.1 L494.1 357.1 M478.2 338.2 L501.2 338.9 M501.2 321.7 L502.1 356.2 M478.2 356.2 L493.2 356.6 L511.8 357.1 M502.1 350.1 L508.3 350.1 L511.8 348.3 L526.0 347.4 M407.4 351.3 L425.1 351.8 L456.1 352.7 L478.2 353.6 M428.3 352.4 L427.7 367.2 M402.1 366.0 L427.7 367.2 L455.2 367.8 M455.5 379.3 L482.6 379.6 L482.6 398.7 M493.2 357.1 L495.0 382.8 M495.0 371.3 L511.8 371.8 M511.8 357.1 L512.2 382.8 M512.2 364.2 L526.0 364.2 M482.6 382.8 L526.9 383.7 M426.0 367.8 L425.4 381.9 M437.5 368.3 L437.1 398.7 M455.2 367.8 L455.2 398.7 M400.3 381.9 L425.4 382.4 M403.0 397.8 L437.1 398.7 L467.6 399.1 L482.6 398.7 L526.9 399.6 M505.6 383.7 L506.1 399.1 M448.1 399.1 L448.4 410.2 M467.6 399.1 L467.9 428.8 M497.6 399.1 L498.0 413.8 M513.6 399.6 L513.9 413.8 M435.4 410.2 L452.5 410.8 L452.5 428.8 M467.9 413.8 L526.9 414.6 M478.2 414.3 L478.5 428.8 M490.6 414.3 L490.9 428.8 M505.6 414.3 L506.1 428.8 M426.9 427.9 L452.5 428.8 L526.9 429.7 M403.0 398.7 L402.1 418.2 L407.4 420.0 L412.7 419.1 L419.8 418.2 L426.0 418.2 L426.9 428.8 L427.7 451.8 M407.4 420.0 L407.0 451.8 M455.2 429.2 L455.2 434.1 L473.8 442.1 L474.6 444.7 M475.5 429.7 L475.5 444.7 M497.6 429.7 L497.6 443.9 M512.7 429.7 L512.7 443.9 M474.6 443.9 L518.9 444.4 M489.7 443.9 L489.7 451.8 M504.7 444.4 L504.7 451.8 M516.2 444.7 L516.8 451.8 M299.8 196.9 L333.4 199.0 M333.4 182.7 L333.8 199.0 L333.4 207.0 L335.2 207.5 L334.7 219.4 M360.3 184.0 L359.4 191.9 L355.9 192.3 L355.0 195.5 L352.9 198.1 L352.4 203.4 L360.3 204.7 L363.9 205.2 L375.4 205.7 L375.9 202.6 L387.8 202.6 L388.6 209.6 L389.5 235.3 M363.9 192.8 L364.8 205.2 M375.4 185.2 L375.9 202.6 M360.3 205.2 L363.0 234.4 M413.4 185.7 L413.8 205.2 M388.6 202.6 L407.2 203.4 L407.8 206.1 M349.7 234.1 L363.0 234.4 L389.5 235.3 L401.0 237.1 L426.0 237.9 M401.0 237.1 L397.5 258.3 L395.7 259.2 L394.9 266.3 L388.6 267.1 M325.8 240.6 L324.9 256.5 M297.0 254.8 L307.2 256.0 L324.9 256.5 M351.5 246.8 L353.3 259.2 L352.9 273.0 L353.6 284.9 M319.6 271.6 L352.9 273.0 L363.9 273.4 M307.2 256.0 L306.4 285.7 M319.6 271.6 L318.4 286.6 M364.8 263.1 L388.6 262.7 M364.2 262.7 L363.9 273.4 M301.0 285.4 L318.4 286.6 L328.5 287.9 L354.1 289.3 M328.5 287.9 L327.6 302.6 M354.1 284.9 L364.8 285.7 L365.6 289.3 L377.1 290.2 L377.7 299.9 L385.1 302.6 M292.2 300.8 L327.6 302.6 L355.0 307.9 M354.1 289.3 L355.0 315.8 M394.9 259.2 L416.1 260.1 M416.1 237.9 L414.9 291.0 M414.9 291.0 L426.0 291.9 M390.0 201.6 L406.8 202.1 L407.4 205.7 L411.2 206.2 L433.4 206.9 M411.2 206.2 L412.1 236.6 M413.9 186.7 L414.4 206.6 M433.4 186.7 L433.9 213.6 M422.7 214.0 L433.9 213.6 L448.4 214.0 M422.7 214.0 L423.3 236.6 M448.4 186.7 L448.8 214.0 M449.3 206.6 L501.5 206.6 M479.4 186.7 L479.4 206.6 M468.8 206.9 L469.3 222.5 M464.3 222.5 L502.4 222.5 M442.2 214.5 L443.1 222.5 L446.6 226.9 L450.2 230.4 L453.7 229.6 L457.3 233.1 L461.7 234.9 L462.6 231.3 L464.3 222.5 M461.7 234.9 L462.6 249.0 L463.4 265.0 M481.1 222.5 L481.7 245.1 M462.6 245.1 L511.2 245.8 M478.1 245.8 L478.5 264.6 M493.0 245.8 L493.5 264.6 M463.4 264.6 L512.1 265.3 M486.5 265.3 L487.0 291.5 M390.0 235.8 L412.1 236.6 L438.7 237.5 L462.6 238.4 M400.6 236.6 L397.1 259.6 M415.7 237.0 L416.6 259.6 M438.7 237.5 L439.6 259.6 M395.3 259.6 L416.6 260.0 L464.3 260.5 M413.9 260.5 L414.8 290.6 M432.8 260.5 L433.9 290.6 M464.0 260.5 L464.3 290.6 M400.6 290.6 L433.9 291.1 L464.3 291.1 L515.7 291.9 M419.2 291.5 L420.1 306.6 L421.0 319.8 M446.6 291.5 L445.8 306.6 L447.5 319.8 M476.7 291.5 L477.6 306.6 M500.6 291.9 L501.1 319.8 M420.1 306.6 L477.6 307.1 L501.1 307.1 M355.0 313.2 L362.1 314.9 L371.0 313.2 L378.0 308.7 L384.2 303.4 L390.4 300.8 M145.0 344.2 L143.8 380.0 L147.5 381.2 L190.0 385.5 M168.8 347.5 L171.2 357.5 L180.0 363.8 L187.5 370.0 L190.0 385.5 L186.2 413.8 M183.8 367.5 L226.2 372.0 M227.5 353.0 L220.0 418.0 M256.2 356.2 L251.2 420.5 M253.8 390.8 L286.2 393.8 M61.2 407.5 L75.0 410.0 L92.5 406.2 L102.5 407.5 L103.8 416.2 L107.5 425.0 L115.0 435.0 L120.0 442.5 L118.8 458.8 M95.0 383.8 L101.2 390.0 L106.2 387.5 L112.5 386.2 L117.5 392.5 L122.5 395.0 L140.0 407.5 L151.2 411.2 L172.5 413.8 L220.0 418.0 L251.2 420.5 L283.8 423.0 M121.2 395.0 L136.2 386.2 L143.8 383.8 L147.5 390.0 L155.0 395.0 L162.5 400.0 L170.0 402.5 L172.5 413.8 M75.0 410.0 L71.2 430.0 L70.0 455.0 L118.8 458.8 L167.5 467.0 M173.8 414.5 L167.5 480.0 L166.2 490.0 L151.2 491.2 L150.0 517.5 M168.0 460.0 L215.0 465.0 L230.0 466.8 L230.5 471.2 L238.8 472.0 L241.2 466.2 L237.5 517.5 M219.5 418.8 L215.0 465.0 L211.2 508.8 L203.8 511.2 L202.5 517.5 M257.5 421.2 L255.0 458.8 M241.2 458.8 L280.0 463.8 M261.2 460.5 L258.8 505.0 M238.8 500.0 L258.8 505.0 L277.5 507.0 M48.8 483.8 L81.2 487.0 M84.5 457.0 L78.8 508.8 M108.9 550.0 L161.4 556.2 L174.7 558.4 M169.4 524.4 L165.9 535.0 L163.2 543.9 L161.4 556.2 M184.5 527.0 L189.8 531.5 L190.7 535.0 L188.0 540.3 L188.9 550.0 L189.8 552.7 M205.7 527.9 L210.1 536.8 L214.6 547.4 L219.0 558.0 L220.7 565.1 L219.0 572.2 M105.7 574.8 L137.6 577.8 L138.4 573.1 L160.6 571.3 L161.4 568.6 L165.9 565.1 L166.8 563.3 L174.7 562.4 L174.7 558.4 M103.9 587.8 L156.1 594.3 L157.9 597.0 L158.8 599.6 M174.7 562.4 L173.8 572.2 L171.2 572.2 L169.4 594.3 M171.2 572.2 L188.9 571.3 L192.4 573.1 L197.7 581.0 L201.3 586.3 L199.5 597.0 M189.8 552.7 L197.7 554.5 L211.9 553.6 L214.6 550.0 M192.4 573.1 L201.3 574.8 L211.9 570.4 L219.0 572.2 L219.9 579.3 L215.4 582.8 L211.9 588.1 L206.6 590.8 L201.3 586.3 M158.8 599.6 L162.3 604.0 L169.4 607.6 L176.5 611.1 L181.8 610.2 L185.3 611.1 L187.1 607.6 L189.8 600.5 L191.5 597.8 L199.5 597.0 L201.3 598.7 L200.4 607.6 L197.7 618.2 L201.3 625.3 M185.3 611.1 L188.9 614.6 L192.4 617.3 L188.9 621.7 L189.8 627.0 L192.4 630.6 L194.2 638.5 M99.0 625.4 L122.0 627.2 L123.8 615.7 L135.3 606.9 L145.9 604.2 L154.8 599.8 L158.3 596.2 M123.8 620.1 L152.1 623.7 M154.8 599.8 L152.1 623.7 L151.3 637.0 L148.6 645.8 M130.0 636.6 L135.3 637.0 L136.2 641.4 L145.9 639.6 L150.4 637.0 M130.0 636.6 L135.3 644.9 L137.1 651.1 L142.4 652.9 L147.7 649.3 L148.6 645.8 M97.3 640.5 L135.3 644.9 M96.4 651.5 L137.1 657.3 M137.1 651.1 L131.8 664.4 L129.1 667.9 M95.5 663.5 L129.1 667.9 L147.7 668.8 M147.7 649.3 L146.8 674.1 L145.9 697.1 M161.9 656.4 L160.1 680.3 M148.6 646.7 L167.2 647.6 M169.0 637.0 L167.2 647.6 L166.3 656.4 L161.9 656.4 M169.0 637.0 L197.3 639.6 L207.9 644.9 M166.3 656.4 L176.0 662.6 L177.8 667.0 L197.3 668.8 L199.0 671.5 L216.7 670.6 L220.3 663.5 L218.5 658.2 L211.4 651.1 M175.2 663.5 L174.3 681.2 L179.6 698.9 M199.0 671.5 L197.3 684.7 L207.9 688.3 L206.1 701.5 M197.3 684.7 L176.0 681.2 M207.9 688.3 L215.0 681.2 L218.5 675.9 L224.0 674.1 M129.1 667.9 L122.0 679.4 L115.9 691.8 M147.7 677.6 L174.3 681.2 M184.9 613.0 L186.7 608.6 L190.2 598.0 L200.8 597.1 L199.0 610.4 L204.3 619.2 L206.1 626.3 L224.0 628.1 M247.5 531.2 L245.5 558.8 M221.2 557.5 L245.5 558.8 L272.5 560.0 L271.2 573.8 L293.8 576.2 M220.0 557.5 L218.8 573.8 L227.5 576.2 L285.0 580.8 M272.5 552.5 L295.0 553.8 L293.8 576.2 M272.5 552.5 L272.5 560.0 M293.8 533.8 L292.5 553.8 M295.0 557.5 L340.0 560.0 M322.5 535.0 L321.2 560.0 M322.5 546.2 L341.2 547.0 M316.2 560.0 L315.0 596.2 M285.0 576.2 L285.0 595.0 M228.8 585.5 L285.0 588.8 M230.0 592.5 L252.5 593.8 L285.0 595.0 L302.5 596.2 L338.8 598.8 M252.5 593.8 L251.2 611.2 L272.5 613.8 L271.2 630.0 L282.5 631.2 L285.0 595.0 M302.5 596.2 L300.0 640.0 L288.8 641.2 L287.5 650.0 L270.0 648.8 L271.2 630.0 M302.5 618.8 L337.5 621.2 M301.2 636.2 L337.5 638.8 M288.8 650.0 L337.5 655.0 M230.0 592.5 L227.5 610.0 L238.8 611.2 L251.2 611.2 M236.2 612.5 L238.8 632.5 L270.0 637.5 M206.2 627.5 L238.8 632.5 L237.5 640.0 L235.0 658.8 L235.0 672.5 M237.5 640.0 L270.0 641.2 L267.5 675.0 L235.0 672.5 M288.8 650.0 L290.0 680.0 M267.5 653.8 L290.0 655.0 M315.0 655.0 L312.5 681.2 M267.5 675.0 L335.0 682.5 M235.0 672.5 L257.5 670.0 L255.0 676.2 L245.0 685.0 L232.5 690.0 L227.5 685.0 M217.5 670.0 L225.0 662.5 L232.5 660.0 L235.0 666.2 M301.2 681.2 L300.0 705.0 M300.0 682.5 L336.2 685.0 M200.0 576.2 L203.8 582.5 L211.2 583.8 L218.8 573.8 M211.2 583.8 L207.5 595.0 L201.2 597.5 L200.0 602.5 M207.5 595.0 L226.2 597.5 L227.5 610.0 M237.5 577.0 L240.5 574.0 L242.5 571.5 M238.0 590.5 L244.5 585.5 L248.8 581.5 L253.8 580.0 L254.8 578.2 L251.2 579.0 M327.6 302.6 L326.4 315.8 M79.8 349.2 L83.4 352.7 L87.8 354.5 L91.3 358.1 L94.0 369.6 L97.0 381.1 L96.3 384.6 L94.9 405.0"/>
</g>
<g fill="none" stroke="#1e90ff" stroke-width="1.7" stroke-linejoin="round" stroke-linecap="round">
<path d="M297.0 234.5 L297.5 231.9 L298.1 229.3 L299.5 227.0 L301.5 225.7 L302.7 223.4 L305.0 222.5 L307.5 221.9 L310.0 221.2 L311.4 222.8 L313.1 224.1 L313.8 226.2 L315.8 225.0 L317.5 223.0 L320.0 222.5 L322.0 221.9 L323.8 220.8 L325.8 220.3 L328.0 220.4 L330.0 220.0 L332.3 221.4 L335.2 221.0 L337.5 222.5 L338.9 224.2 L339.2 226.3 L339.6 228.5 L341.2 230.0 L343.7 231.4 L346.2 232.5 L348.0 231.1 L350.0 230.0 L348.7 232.4 L350.0 235.1 L348.8 237.5 L349.5 239.6 L351.6 240.6 L352.5 242.5 L354.6 243.7 L356.3 245.3 L357.5 247.5 L359.4 248.5 L360.5 250.5 L362.5 251.2 L364.8 249.9 L367.6 249.7 L370.0 248.8 L372.0 248.8 L374.0 248.0 L376.0 248.1 L377.9 247.0 L380.0 247.5 L377.9 249.5 L375.0 250.0 L376.4 251.6 L376.6 253.9 L377.9 255.6 L378.8 257.5 L380.8 258.1 L382.4 259.5 L384.4 260.2 L386.2 261.2 L387.2 263.3 L387.0 265.8 L387.8 267.9 L388.8 270.0 L389.6 272.4 L389.4 275.0 L390.0 277.5 L390.9 279.4 L391.3 281.6 L392.4 283.3 L393.8 285.0 L395.6 286.6 L396.2 289.3 L399.0 290.2 L400.0 292.5 L399.7 295.0 L398.7 297.4 L398.8 300.0 L399.6 301.9 L399.3 304.0 L400.3 305.9 L399.4 308.0 L400.0 310.0 L400.5 312.1 L401.8 313.8 L402.2 315.9 L403.8 317.5 L404.9 319.9 L405.1 322.6 L406.2 325.0 L405.2 326.8 L404.2 328.7 L403.5 330.7 L402.5 332.5 L399.9 332.5 L397.5 333.8 L399.3 335.3 L401.7 335.4 L403.8 336.2 L403.8 338.5 L405.2 340.5 L404.3 342.9 L405.0 345.0 L402.9 345.2 L400.7 345.0 L398.8 346.2 L401.1 347.6 L403.9 347.6 L406.2 348.8 L406.9 350.8 L406.8 353.0 L407.5 355.0 L407.5 357.8 L405.9 360.0 L405.0 362.5 L404.3 365.3 L402.5 367.5 M311.2 215.0 L311.9 217.1 L312.0 219.2 L311.2 221.2 M332.5 243.8 L334.9 244.6 L337.6 243.9 L340.0 245.0 L341.9 245.9 L343.4 247.3 L345.0 248.8 L347.4 247.3 L348.8 245.0 L350.2 243.1 L352.5 242.5 M341.2 230.0 L342.2 232.5 L342.8 235.0 L343.8 237.5 L346.2 238.2 L348.8 237.5 M360.0 250.5 L362.2 250.7 L364.3 250.5 L366.2 249.5 L368.0 248.3 L369.9 247.7 L371.8 246.8 L373.8 246.2 L375.9 246.8 L378.0 246.7 L380.0 245.8 L380.0 248.0 M405.0 340.0 L406.4 342.3 L407.2 344.8 L407.5 347.5 L407.0 349.6 L406.1 351.5 L404.7 353.1 L403.8 355.0 L403.6 357.0 L404.2 359.0 L404.6 361.0 L403.9 363.0 L403.8 365.0 L402.3 366.4 L400.6 367.4 L398.6 368.1 L397.5 370.0 L394.9 370.1 L392.5 370.8 L390.0 371.2 L387.9 371.5 L385.9 371.9 L384.2 373.5 L381.8 372.6 L380.0 373.8 L376.2 375.0 M397.5 370.0 L395.3 371.5 L393.8 373.8 L395.0 377.5 L396.5 379.3 L398.8 380.0 L396.8 380.8 L395.5 382.5 L397.2 383.6 L398.8 385.0 L400.6 386.1 L402.7 386.9 L403.9 388.9 L406.2 389.4 L407.5 391.2 L409.9 391.6 L411.7 392.8 L413.8 393.7 L415.6 395.0 L417.5 396.2 L419.7 396.5 L421.6 397.3 L423.4 398.5 L425.0 400.0 L427.5 398.0 L426.2 401.2 L428.3 401.9 L429.5 403.6 L431.5 404.3 L432.5 406.2 L432.7 408.6 L434.0 410.5 L435.0 412.5 L434.6 414.7 L433.5 416.4 L432.4 418.2 L431.2 420.0 L432.3 422.4 L433.6 424.8 L433.8 427.5 L434.7 429.6 L436.0 431.4 L438.2 432.5 L439.6 434.1 L441.6 435.3 L442.5 437.5 L444.6 438.2 L446.0 439.8 L447.8 440.9 L448.8 443.0 L451.2 443.3 L452.5 445.0 L454.8 445.2 L455.9 447.6 L458.1 447.9 L460.0 448.8 M403.8 365.0 L402.2 366.8 L400.0 367.5 L397.9 367.4 L395.8 368.4 L393.8 367.5 L395.6 368.8 L397.5 370.0 M320.0 222.5 L320.9 224.6 L322.5 226.2 L326.2 225.5 M362.5 251.2 L363.2 253.3 L364.5 255.0 L368.0 253.8 M346.2 232.5 L345.5 235.5 L346.6 237.2 L348.0 238.8 M505.0 343.8 L506.7 342.3 L508.8 341.2 L510.0 337.5 L512.5 335.0 M120.0 456.2 L122.5 456.5 L125.0 456.8 L127.5 457.5 L129.6 457.4 L131.7 456.7 L133.8 456.5 L135.8 455.7 L137.9 455.1 L140.0 455.0 L142.1 454.5 L144.2 453.9 L146.1 453.1 L148.1 452.3 L150.0 451.2 L151.9 452.3 L153.9 453.0 L156.1 453.2 L158.0 454.3 L160.0 455.0 L162.0 455.4 L164.1 455.5 L166.1 456.0 L168.1 456.8 L170.0 457.5 L172.0 457.5 L174.0 458.2 L175.9 458.7 L178.0 458.4 L180.0 458.8 L181.9 459.4 L183.9 459.7 L185.9 459.9 L188.0 459.6 L190.0 460.0 L191.7 458.5 L193.6 457.3 L195.5 456.0 L197.5 455.0 L198.5 453.2 L200.1 451.9 L201.6 450.6 L202.5 448.8 L204.6 448.2 L206.5 447.0 L208.6 446.3 L210.6 445.6 L212.5 444.5 L214.6 444.4 L216.6 445.2 L218.7 445.8 L220.8 445.9 L222.9 446.2 L225.0 446.2 L227.1 446.6 L229.2 446.8 L231.2 447.8 L233.4 447.8 L235.4 448.6 L237.5 448.8 L237.9 451.0 L239.3 452.9 L240.0 455.0 L241.9 455.9 L243.6 457.3 L245.5 458.0 L247.5 458.8 L249.0 460.4 L250.3 462.3 L251.5 464.2 L252.5 466.2 L253.7 468.3 L255.3 469.9 L257.3 471.3 L258.2 473.5 L260.0 475.0 L261.4 476.6 L263.2 477.6 L265.1 478.6 L266.6 480.0 L268.6 480.9 L270.0 482.5 L272.3 483.3 L273.8 485.4 L275.9 486.4 L278.0 487.5 L280.0 488.8 M157.5 346.2 L157.3 348.6 L158.1 350.7 L157.9 353.0 L158.2 355.3 L158.8 357.5 L159.7 359.5 L160.2 361.6 L160.8 363.7 L161.5 365.8 L161.8 367.9 L162.5 370.0 L163.0 372.0 L163.1 374.0 L163.6 375.9 L163.1 378.1 L163.8 380.0 L163.5 382.5 L163.0 385.0 L162.5 387.5 L160.9 388.9 L159.2 390.2 L158.1 392.1 L156.2 393.2 L155.0 395.0 L154.6 397.1 L154.1 399.2 L153.7 401.2 L153.8 403.4 L153.0 405.4 L152.5 407.5 L152.6 409.6 L152.6 411.7 L151.6 413.7 L152.0 415.9 L151.5 417.9 L151.2 420.0 L150.2 422.4 L149.5 425.0 L148.8 427.5 L146.8 428.9 L144.6 430.0 L142.5 431.2 L140.7 429.9 L138.9 428.5 L136.7 427.8 L135.0 426.2 L133.4 424.9 L131.5 423.9 L129.9 422.7 L128.5 421.0 L126.7 420.0 L125.0 418.8 L123.4 417.4 L121.8 416.0 L120.2 414.7 L118.3 413.8 L116.7 412.4 L115.0 411.2 L113.3 410.0 L111.7 408.7 L110.1 407.4 L108.3 406.3 L106.7 405.0 L105.0 403.8 L103.5 402.3 L102.3 400.4 L100.6 399.1 L99.3 397.5 L97.5 396.2 L97.1 394.0 L95.6 392.2 L95.0 390.0 L95.5 387.5 L96.3 385.1 L96.2 382.5 L96.1 380.4 L94.9 378.6 L94.4 376.6 L94.2 374.5 L93.8 372.5 L92.8 370.6 L92.5 368.6 L91.8 366.6 L91.9 364.5 L91.2 362.5 L90.7 359.9 L90.0 357.4 L88.8 355.0 L88.0 352.6 L88.1 350.0 L87.5 347.5 L89.5 346.4 L91.2 345.0 L90.9 342.9 L91.6 340.8 L91.2 338.8 M70.0 348.8 L72.4 349.6 L75.0 349.3 L77.5 350.0 L79.6 349.1 L81.2 347.5 L82.6 349.9 L83.8 352.5 M83.8 360.0 L86.3 361.2 L88.8 362.5 L89.6 364.6 L91.2 366.2 L88.8 365.3 L86.2 365.0 L84.7 362.6 L83.8 360.0 M83.8 352.5 L87.5 353.8 L88.8 355.6 L90.0 357.5 M83.8 370.0 L81.7 371.2 L79.7 372.6 L77.5 373.8 L77.0 375.9 L76.0 378.0 L75.0 380.0 L76.1 381.7 L77.9 382.8 L78.7 384.7 L80.0 386.2 L76.2 387.5 L75.0 389.1 L74.1 390.9 L72.6 392.3 L71.2 393.8 L70.2 395.6 L69.4 397.5 L68.8 399.6 L67.5 401.2 L67.9 403.9 L68.9 406.3 L70.0 408.8 L67.5 411.2 L65.3 411.4 L63.4 412.8 L61.2 413.0 M83.8 370.0 L85.2 371.7 L86.2 373.8 L88.8 372.5 M95.0 408.8 L97.1 409.6 L98.8 411.2 L99.3 413.4 L100.6 415.3 L101.2 417.5 L99.4 416.6 L97.9 415.1 L96.2 413.8 L94.7 415.6 L93.5 417.8 L92.5 420.0 L91.5 422.0 L90.3 423.9 L88.4 425.4 L87.5 427.5 L87.7 429.5 L87.8 431.5 L88.7 433.4 L88.9 435.4 L88.8 437.5 L87.8 439.4 L87.3 441.5 L86.9 443.6 L85.3 445.4 L85.0 447.5 L84.1 449.4 L83.2 451.4 L83.1 453.6 L81.7 455.4 L81.2 457.5 L82.2 459.4 L81.9 461.6 L82.8 463.5 L83.4 465.5 L83.8 467.5 L85.3 469.4 L86.5 471.5 L88.6 473.0 L90.0 475.0 L91.3 476.7 L91.8 478.8 L93.0 480.5 L93.8 482.5 L95.3 484.2 L96.5 486.1 L97.9 487.9 L99.0 489.8 L100.2 491.8 L101.2 493.8 L100.4 495.6 L99.0 497.1 L98.4 499.1 L97.2 500.8 L96.2 502.5 L96.2 504.8 L95.7 507.0 L95.7 509.3 L95.1 511.5 L94.5 513.8 M53.8 458.8 L54.8 460.7 L54.7 463.0 L55.5 465.0 L54.6 467.5 L53.8 470.0 M50.0 495.0 L51.5 497.4 L52.5 500.0 L51.7 502.1 L50.4 504.0 L50.0 506.2 M280.0 488.8 L282.1 488.9 L283.9 490.1 L286.0 490.2 L288.0 490.8 L290.0 491.2 L291.9 492.6 L294.1 493.1 L296.0 494.3 L297.9 495.4 L300.0 496.2 L301.5 497.9 L303.7 498.6 L305.2 500.3 L307.0 501.4 L308.9 502.6 L310.8 503.7 L312.5 505.0 L314.4 506.1 L316.3 507.1 L318.1 508.4 L319.9 509.6 L321.3 511.4 L323.4 512.3 L325.0 513.8 L327.2 514.5 L329.4 515.5 L331.2 517.0 M330.0 515.7 L331.8 516.8 L333.7 517.6 L335.6 518.1 L337.7 518.5 L339.6 519.3 L341.5 520.1 L343.3 521.0 L345.5 521.6 L347.8 522.0 L349.9 523.0 L352.2 523.5 L354.2 524.8 L356.6 525.0 L358.7 525.7 L361.0 525.5 L363.2 525.4 L365.4 526.4 L367.6 525.9 L369.8 526.3 L372.1 526.4 L374.3 526.3 L376.5 526.9 L378.7 527.2 L380.9 527.4 L383.1 527.7 L385.1 528.3 L386.9 529.6 L389.0 530.1 L390.8 531.2 L392.8 532.0 L394.6 533.3 L396.4 534.3 L398.5 535.0 L400.4 536.2 L402.2 537.5 L404.1 538.6 L405.9 540.1 L407.8 541.2 L409.7 542.3 L411.5 543.6 L413.4 544.7 L415.3 545.9 L417.1 547.1 L419.2 547.9 L421.2 548.9 L423.0 550.2 L425.1 551.1 L427.5 550.8 L429.6 551.8 L431.8 552.1 L434.1 552.0 L436.2 552.9 L438.4 553.2 L440.5 553.3 L442.6 553.0 L444.8 553.1 L446.9 552.9 L449.1 552.4 L451.0 551.0 L453.3 550.5 L455.4 549.7 L457.5 548.9 L459.4 548.1 L461.2 547.0 L463.0 545.9 L464.6 544.5 L466.6 543.7 L468.1 542.3 L470.0 541.1 L471.8 539.8 L473.3 538.1 L474.9 536.6 L476.8 535.3 L478.8 534.3 L480.2 532.6 L481.7 530.8 L483.8 529.8 L485.2 528.0 L486.7 526.3 L488.9 525.6 L491.0 524.9 L493.2 524.1 L495.2 523.1 L497.3 522.3 L499.4 521.3 L501.7 521.6 L503.8 521.0 L505.8 520.2 L508.0 519.7 L510.1 519.5 L512.2 519.3 L514.3 518.5 L516.5 518.9 L518.6 518.4 L520.6 518.5 L522.6 518.6 L524.6 519.1 L526.6 519.7 L527.7 521.5 L529.5 522.8 L530.4 524.8 L531.9 526.3 L531.7 528.4 L532.5 530.3 L533.0 532.3 L533.2 534.3 L535.2 535.6 L537.2 537.0 L539.9 535.8 L542.5 534.3 L544.4 535.2 L546.5 535.6 M191.2 600.0 L191.9 602.0 L192.6 604.0 L193.9 605.9 L194.6 607.9 L195.0 610.0 L196.2 611.9 L196.8 614.1 L198.2 615.9 L198.9 618.0 L200.0 620.0 L200.7 621.9 L200.9 624.0 L201.0 626.0 L200.8 628.0 L201.2 630.0 L202.3 631.7 L203.6 633.2 L205.2 634.6 L206.2 636.2 L207.8 637.5 L209.4 638.7 L211.0 640.0 L212.5 641.2 L214.4 640.1 L216.6 640.1 L218.4 638.7 L220.7 638.7 L222.5 637.5 L224.3 638.9 L226.7 639.1 L228.5 640.5 L230.4 641.8 L232.5 642.5 L234.3 643.9 L236.5 644.5 L238.6 645.3 L240.6 646.2 L242.5 647.5 L244.5 648.5 L246.8 648.5 L248.7 649.5 L250.9 649.7 L252.9 650.6 L255.0 651.2 L256.9 652.5 L259.3 652.6 L261.1 654.0 L263.3 654.6 L265.3 655.8 L267.5 656.2 L269.4 657.4 L271.6 658.0 L273.3 659.6 L275.5 660.2 L277.5 661.2 L279.8 661.4 L282.0 662.0 L284.1 663.1 L286.2 663.8 L288.4 663.1 L290.6 662.3 L292.7 661.5 L295.0 661.2 L297.1 661.1 L299.3 661.1 L301.4 661.6 L303.6 660.8 L305.7 661.5 L307.9 661.6 L310.0 661.2 L312.2 661.0 L314.2 662.0 L316.4 662.0 L318.5 662.4 L320.7 661.9 L322.9 662.2 L325.0 662.5 L327.1 663.0 L329.0 664.2 L331.2 664.5 L333.4 664.9 L335.4 665.6 L337.5 666.2 M330.0 663.8 L332.1 664.3 L334.2 664.8 L336.1 665.6 L337.9 667.1 L340.0 667.5 L342.1 668.0 L343.9 669.4 L346.1 669.5 L348.1 670.3 L350.0 671.2 L352.0 671.5 L354.0 671.4 L356.0 671.9 L357.9 672.7 L360.0 672.5 L362.1 672.1 L364.1 671.3 L366.1 670.4 L368.1 669.9 L370.0 668.8 L371.9 669.7 L374.0 669.8 L375.9 670.5 L378.1 670.3 L380.0 671.2 L381.9 672.5 L384.0 673.2 L385.9 674.5 L387.9 675.4 L390.0 676.2 L392.1 676.8 L394.2 677.3 L395.9 678.9 L398.1 678.9 L400.0 680.0 L402.0 680.5 L404.0 680.9 L406.1 681.3 L407.9 682.2 L410.0 682.5 L412.1 683.5 L414.4 683.3 L416.5 684.1 L418.8 684.5 L421.1 682.7 L423.8 681.2 L425.1 679.5 L426.2 677.7 L427.2 675.8 L428.5 674.0 L430.0 672.5 L431.3 670.8 L433.3 669.8 L434.5 668.0 L435.8 666.3 L437.5 665.0 L439.3 663.8 L440.9 662.4 L442.0 660.5 L443.2 658.8 L445.0 657.5 L446.8 656.5 L448.6 655.6 L450.6 655.1 L452.5 654.5 L454.7 654.7 L456.7 655.4 L458.8 656.2 L460.6 657.3 L462.2 658.8 L463.8 660.3 L465.6 661.5 L467.5 662.5 L469.5 663.4 L471.5 664.4 L473.5 665.5 L475.6 666.4 L477.5 667.5 L479.6 668.4 L481.7 669.1 L483.6 670.3 L485.3 671.9 L487.5 672.5 L489.5 673.1 L491.2 674.4 L493.1 675.4 L495.0 676.2 L495.9 678.2 L497.7 679.6 L498.9 681.4 L500.2 683.1 L501.2 685.0 L502.1 687.0 L502.8 689.0 L503.1 691.2 L503.9 693.1 L505.0 695.0 L505.1 697.1 L506.5 698.9 L506.9 700.9 L506.8 703.0 L507.5 705.0 L508.0 707.2 L509.2 709.2 L510.0 711.2 L512.5 711.7 L515.0 712.0 M103.8 596.2 L107.5 595.0 L109.5 595.9 L110.9 597.4 L112.5 598.8 L114.2 600.1 L116.1 600.9 L118.0 601.9 L120.0 602.5 L122.3 602.1 L124.1 600.6 L126.2 600.0 L127.2 597.7 L128.4 595.7 L130.0 593.8 L131.9 592.2 L133.9 590.8 L135.9 589.4 L137.5 587.5 L139.6 587.2 L141.5 586.6 L143.6 586.3 L145.5 585.5 L147.5 585.0 L149.6 584.8 L151.6 584.1 L153.8 584.7 L155.8 583.9 L158.0 584.4 L160.0 583.8 L162.6 583.0 L164.9 581.9 L167.5 581.2 L168.4 579.0 L169.8 577.0 L171.2 575.0 L173.5 574.2 L175.7 573.3 L177.7 571.8 L180.0 571.2 L181.9 572.2 L183.3 573.8 L185.0 575.0 L186.7 573.4 L188.2 571.6 L190.0 570.0 L192.4 568.9 L195.0 568.4 L197.5 567.5 L199.9 566.6 L202.5 566.5 L205.0 566.2 L207.2 565.8 L209.5 565.8 L211.6 565.1 L213.8 564.5 M147.5 662.5 L149.8 664.1 L152.5 665.0 L155.0 664.4 L157.5 663.8 L160.1 664.8 L162.5 666.2 L164.0 664.8 L166.1 664.1 L167.5 662.5 L169.0 663.9 L170.9 664.9 L172.5 666.2 L174.6 666.8 L176.2 668.1 L178.1 669.2 L180.0 670.0 L182.5 670.3 L185.0 670.6 L187.5 671.2 L189.3 672.3 L191.1 673.5 L193.2 673.8 L195.0 675.0 L196.8 675.9 L198.2 677.4 L199.7 678.7 L201.2 680.0 L202.3 682.2 L204.0 684.0 L205.0 686.2 L204.9 688.5 L205.3 690.8 L205.8 693.0 L206.3 695.2 L206.2 697.5 M112.5 523.8 L113.4 525.9 L115.0 527.5 L115.2 530.0 L115.0 532.5 L112.9 534.1 L111.2 536.2"/>
<path stroke-width="2.6" d="M330.0 220.0 L332.6 220.4 L335.2 221.2 L337.5 222.5 L338.0 224.6 L339.7 226.1 L339.6 228.5 L341.2 230.0 L343.8 231.2 L346.2 232.5 L347.8 230.8 L350.0 230.0 L350.1 232.6 L349.3 235.0 L348.8 237.5 L349.8 239.3 L350.6 241.3 L352.5 242.5 L354.6 243.7 L356.0 245.7 L357.5 247.5 L359.5 248.3 L360.3 250.7 L362.5 251.2 L364.8 249.8 L367.2 248.8 L370.0 248.8 L371.9 247.7 L374.0 248.1 L376.1 248.7 L378.1 248.4 L380.0 247.5 M400.0 310.0 L400.6 312.1 L401.1 314.1 L402.1 316.0 L403.8 317.5 L404.9 319.9 L405.9 322.3 L406.2 325.0 L404.6 326.5 L404.0 328.6 L404.2 331.0 L402.5 332.5 L403.1 335.1 L404.4 337.4 L405.0 340.0 L405.2 342.5 L405.0 345.0 L405.8 346.9 L406.6 348.9 L407.4 350.8 L407.4 352.9 L407.5 355.0 L406.9 357.6 L405.1 359.7 L405.0 362.5 L404.4 365.3 L402.5 367.5 M405.0 340.0 L405.0 342.8 L407.2 344.8 L407.5 347.5 L406.8 349.5 L405.1 351.0 L404.2 352.9 L403.8 355.0 L403.9 357.0 L404.6 359.0 L403.8 361.0 L404.0 363.0 L403.8 365.0 L401.7 365.7 L401.0 367.9 L399.2 368.9 L397.5 370.0 L394.9 369.7 L392.6 371.7 L390.0 371.2 M397.5 370.0 L395.7 372.0 L393.8 373.8 L395.0 377.5 L396.6 379.2 L398.8 380.0"/>
</g>
<g fill="none" stroke="#000" stroke-width="1.75" stroke-linejoin="round">
<path d="M299.9 181.8 L324.8 183.3 L349.7 184.6 L374.6 185.7 L399.6 186.4 L424.6 187.0 L449.5 187.3 L474.5 187.4 L499.4 187.2 L503.8 200.0 L502.5 207.5 L505.0 227.5 L511.2 247.5 L512.5 270.0 L515.0 280.0 L516.2 292.5 L521.2 305.0 L522.0 320.0 L522.0 321.8 L492.7 320.7 L463.9 320.8 L435.1 320.6 L406.3 320.0 L377.5 319.2 L348.7 318.1 L319.9 316.7 L291.2 314.9Z"/>
<path d="M291.2 314.9 L319.9 316.7 L348.7 318.1 L377.5 319.2 L406.3 320.0 L435.1 320.6 L463.9 320.8 L492.7 320.7 L521.5 320.3 L520.0 327.5 L512.5 335.0 L517.5 342.5 L526.2 346.2 L527.0 427.5 L523.0 430.0 L523.0 440.0 L527.0 443.8 L527.0 445.0 L525.2 452.1 L521.6 460.9 L523.8 463.6 L521.5 466.2 L515.4 463.6 L508.3 461.8 L503.0 459.2 L497.7 456.5 L491.5 456.5 L487.0 457.7 L483.5 457.0 L480.0 457.7 L476.4 460.6 L472.9 459.2 L467.6 454.7 L463.1 451.2 L461.4 450.1 L439.1 450.0 L416.7 449.7 L394.4 449.2 L372.0 448.5 L349.7 447.6 L327.4 446.6 L305.0 445.4 L282.7 444.0Z"/>
<path d="M282.7 444.0 L305.0 445.4 L327.4 446.6 L349.7 447.6 L372.0 448.5 L394.4 449.2 L416.7 449.7 L439.1 450.0 L461.4 450.1 L463.1 451.2 L467.6 454.7 L472.9 459.2 L476.4 460.6 L480.0 457.7 L483.5 457.0 L487.0 457.7 L491.5 456.5 L497.7 456.5 L503.0 459.2 L508.3 461.8 L515.4 463.6 L521.5 466.2 L523.8 463.6 L526.1 468.0 L528.7 473.3 L530.5 480.4 L534.0 487.5 L537.6 496.3 L541.1 501.6 L540.2 506.9 L544.6 514.0 L545.5 519.3 L548.2 528.2 L547.3 535.3 L549.1 544.1 L550.0 551.2 L555.3 558.3 L556.2 565.4 L561.5 572.4 L564.1 579.5 L569.4 583.9 L572.5 582.8 L540.1 581.5 L511.7 582.0 L483.3 582.3 L454.9 582.3 L426.6 582.0 L398.2 581.5 L369.8 580.6 L341.4 579.6 L343.3 535.5 L321.2 534.5 L299.1 533.3 L277.0 531.9Z"/>
<path d="M341.4 579.6 L369.8 580.6 L398.2 581.5 L426.6 582.0 L454.9 582.3 L483.3 582.3 L511.7 582.0 L540.1 581.5 L572.5 582.5 L575.0 585.5 L582.5 587.5 L583.0 592.5 L576.2 597.5 L575.0 602.5 L582.5 611.2 L587.5 616.2 L593.8 616.2 L594.6 650.3 L595.9 681.1 L597.1 711.9 L564.5 713.1 L531.9 713.9 L499.2 714.4 L466.6 714.5 L433.9 714.3 L401.3 713.7 L368.7 712.9 L336.1 711.6Z"/>
<path d="M71.1 333.5 L98.1 337.2 L125.2 340.8 L152.4 344.0 L179.5 347.0 L206.7 349.7 L234.0 352.2 L261.2 354.4 L288.5 356.3 L285.6 400.1 L282.7 444.0 L279.9 488.0 L277.0 531.9 L248.0 529.9 L219.0 527.6 L190.1 525.0 L161.2 522.1 L132.3 518.9 L103.4 515.4 L74.6 511.7 L45.8 507.7Z"/>
<path d="M111.7 516.5 L140.5 519.8 L169.4 522.9 L198.3 525.7 L227.3 528.3 L256.3 530.5 L285.3 532.5 L314.3 534.1 L343.3 535.5 L341.4 579.6 L339.5 623.6 L337.6 667.6 L335.7 711.6 L305.3 710.2 L274.5 708.4 L243.7 706.3 L213.0 703.9 L182.3 701.2 L151.6 698.3 L120.9 695.0 L90.3 691.4Z"/>
</g>
</svg>
<div class="t " style="left:320.6px;width:600px;margin-left:-300px;text-align:center;top:31.48px;font-size:24.00px;font-weight:bold;font-style:italic;transform:scaleX(1.0750);transform-origin:50% 50%;">U.S. Drought Monitor</div>
<div class="t " style="left:320.5px;width:600px;margin-left:-300px;text-align:center;top:67.01px;font-size:39.80px;font-weight:bold;transform:scaleX(1.0450);transform-origin:50% 50%;">High Plains</div>
<div class="t " style="left:823.2px;width:600px;margin-left:-300px;text-align:center;top:35.07px;font-size:23.90px;font-weight:bold;transform:scaleX(1.0700);transform-origin:50% 50%;">October 24, 2023</div>
<div class="t " style="left:824.0px;width:600px;margin-left:-300px;text-align:center;top:65.08px;font-size:15.50px;font-weight:bold;font-style:italic;">(Released Thursday, Oct. 26, 2023)</div>
<div class="t " style="left:824.5px;width:600px;margin-left:-300px;text-align:center;top:87.56px;font-size:15.40px;font-weight:bold;">Valid 8 a.m. EDT</div>
<div class="t " style="left:867.3px;width:600px;margin-left:-300px;text-align:center;top:123.23px;font-size:13.90px;font-style:italic;">Drought Conditions (Percent Area)</div>
<div style="position:absolute;left:743.90px;top:141.70px;width:42.06px;height:25.30px;background:#fff;"></div>
<div class="t " style="left:764.9px;width:600px;margin-left:-300px;text-align:center;top:150.21px;font-size:11.80px;color:#000;">None</div>
<div style="position:absolute;left:785.96px;top:141.70px;width:42.06px;height:25.30px;background:#ffff00;"></div>
<div class="t " style="left:807.0px;width:600px;margin-left:-300px;text-align:center;top:150.21px;font-size:11.80px;color:#000;">D0-D4</div>
<div style="position:absolute;left:828.02px;top:141.70px;width:42.06px;height:25.30px;background:#fcd37f;"></div>
<div class="t " style="left:849.0px;width:600px;margin-left:-300px;text-align:center;top:150.21px;font-size:11.80px;color:#000;">D1-D4</div>
<div style="position:absolute;left:870.08px;top:141.70px;width:42.06px;height:25.30px;background:#ffaa00;"></div>
<div class="t " style="left:891.1px;width:600px;margin-left:-300px;text-align:center;top:150.21px;font-size:11.80px;color:#000;">D2-D4</div>
<div style="position:absolute;left:912.13px;top:141.70px;width:42.06px;height:25.30px;background:#e60000;"></div>
<div class="t " style="left:933.2px;width:600px;margin-left:-300px;text-align:center;top:150.21px;font-size:11.80px;color:#fff;">D3-D4</div>
<div style="position:absolute;left:954.19px;top:141.70px;width:42.06px;height:25.30px;background:#730000;"></div>
<div class="t " style="left:975.2px;width:600px;margin-left:-300px;text-align:center;top:150.21px;font-size:11.80px;color:#fff;">D4</div>
<div style="position:absolute;left:785.46px;top:141.70px;width:1.00px;height:277.00px;background:#404040;"></div>
<div style="position:absolute;left:827.52px;top:141.70px;width:1.00px;height:277.00px;background:#404040;"></div>
<div style="position:absolute;left:869.58px;top:141.70px;width:1.00px;height:277.00px;background:#404040;"></div>
<div style="position:absolute;left:911.63px;top:141.70px;width:1.00px;height:277.00px;background:#404040;"></div>
<div style="position:absolute;left:953.69px;top:141.70px;width:1.00px;height:277.00px;background:#404040;"></div>
<div style="position:absolute;left:652.00px;top:208.45px;width:344.25px;height:1.00px;background:#404040;"></div>
<div style="position:absolute;left:652.00px;top:250.40px;width:344.25px;height:1.00px;background:#404040;"></div>
<div style="position:absolute;left:652.00px;top:292.35px;width:344.25px;height:1.00px;background:#404040;"></div>
<div style="position:absolute;left:652.00px;top:334.30px;width:344.25px;height:1.00px;background:#404040;"></div>
<div style="position:absolute;left:652.00px;top:376.25px;width:344.25px;height:1.00px;background:#404040;"></div>
<div style="position:absolute;left:743.00px;top:140.80px;width:253.90px;height:1.80px;background:#000;"></div>
<div style="position:absolute;left:995.10px;top:140.80px;width:1.80px;height:278.80px;background:#000;"></div>
<div style="position:absolute;left:743.00px;top:140.80px;width:1.80px;height:278.80px;background:#000;"></div>
<div style="position:absolute;left:651.10px;top:166.10px;width:345.80px;height:1.80px;background:#000;"></div>
<div style="position:absolute;left:651.10px;top:166.10px;width:1.80px;height:253.50px;background:#000;"></div>
<div style="position:absolute;left:651.10px;top:417.80px;width:345.80px;height:1.80px;background:#000;"></div>
<div class="t " style="left:697.2px;width:600px;margin-left:-300px;text-align:center;top:182.60px;font-size:11.70px;font-weight:bold;">Current</div>
<div class="t " style="left:764.9px;width:600px;margin-left:-300px;text-align:center;top:183.55px;font-size:11.40px;">59.08</div>
<div class="t " style="left:807.0px;width:600px;margin-left:-300px;text-align:center;top:183.55px;font-size:11.40px;">40.92</div>
<div class="t " style="left:849.0px;width:600px;margin-left:-300px;text-align:center;top:183.55px;font-size:11.40px;">25.04</div>
<div class="t " style="left:891.1px;width:600px;margin-left:-300px;text-align:center;top:183.55px;font-size:11.40px;">14.76</div>
<div class="t " style="left:933.2px;width:600px;margin-left:-300px;text-align:center;top:183.55px;font-size:11.40px;">4.96</div>
<div class="t " style="left:975.2px;width:600px;margin-left:-300px;text-align:center;top:183.55px;font-size:11.40px;">0.97</div>
<div class="t " style="left:697.2px;width:600px;margin-left:-300px;text-align:center;top:218.45px;font-size:11.70px;font-weight:bold;">Last Week</div>
<div class="t " style="left:697.2px;width:600px;margin-left:-300px;text-align:center;top:234.90px;font-size:8.80px;font-style:italic;">10-17-2023</div>
<div class="t " style="left:764.9px;width:600px;margin-left:-300px;text-align:center;top:225.50px;font-size:11.40px;">59.76</div>
<div class="t " style="left:807.0px;width:600px;margin-left:-300px;text-align:center;top:225.50px;font-size:11.40px;">40.24</div>
<div class="t " style="left:849.0px;width:600px;margin-left:-300px;text-align:center;top:225.50px;font-size:11.40px;">24.57</div>
<div class="t " style="left:891.1px;width:600px;margin-left:-300px;text-align:center;top:225.50px;font-size:11.40px;">14.70</div>
<div class="t " style="left:933.2px;width:600px;margin-left:-300px;text-align:center;top:225.50px;font-size:11.40px;">4.96</div>
<div class="t " style="left:975.2px;width:600px;margin-left:-300px;text-align:center;top:225.50px;font-size:11.40px;">0.97</div>
<div class="t " style="left:697.2px;width:600px;margin-left:-300px;text-align:center;top:260.40px;font-size:11.70px;font-weight:bold;">3 Months Ago</div>
<div class="t " style="left:697.2px;width:600px;margin-left:-300px;text-align:center;top:276.85px;font-size:8.80px;font-style:italic;">07-25-2023</div>
<div class="t " style="left:764.9px;width:600px;margin-left:-300px;text-align:center;top:267.45px;font-size:11.40px;">52.82</div>
<div class="t " style="left:807.0px;width:600px;margin-left:-300px;text-align:center;top:267.45px;font-size:11.40px;">47.18</div>
<div class="t " style="left:849.0px;width:600px;margin-left:-300px;text-align:center;top:267.45px;font-size:11.40px;">29.04</div>
<div class="t " style="left:891.1px;width:600px;margin-left:-300px;text-align:center;top:267.45px;font-size:11.40px;">15.49</div>
<div class="t " style="left:933.2px;width:600px;margin-left:-300px;text-align:center;top:267.45px;font-size:11.40px;">7.64</div>
<div class="t " style="left:975.2px;width:600px;margin-left:-300px;text-align:center;top:267.45px;font-size:11.40px;">0.99</div>
<div class="t " style="left:697.2px;width:600px;margin-left:-300px;text-align:center;top:296.05px;font-size:11.70px;font-weight:bold;">Start of</div>
<div class="t " style="left:697.2px;width:600px;margin-left:-300px;text-align:center;top:309.75px;font-size:11.70px;font-weight:bold;">Calendar Year</div>
<div class="t " style="left:697.2px;width:600px;margin-left:-300px;text-align:center;top:322.70px;font-size:8.80px;font-style:italic;">01-03-2023</div>
<div class="t " style="left:764.9px;width:600px;margin-left:-300px;text-align:center;top:309.40px;font-size:11.40px;">13.54</div>
<div class="t " style="left:807.0px;width:600px;margin-left:-300px;text-align:center;top:309.40px;font-size:11.40px;">86.46</div>
<div class="t " style="left:849.0px;width:600px;margin-left:-300px;text-align:center;top:309.40px;font-size:11.40px;">66.35</div>
<div class="t " style="left:891.1px;width:600px;margin-left:-300px;text-align:center;top:309.40px;font-size:11.40px;">37.03</div>
<div class="t " style="left:933.2px;width:600px;margin-left:-300px;text-align:center;top:309.40px;font-size:11.40px;">18.35</div>
<div class="t " style="left:975.2px;width:600px;margin-left:-300px;text-align:center;top:309.40px;font-size:11.40px;">7.83</div>
<div class="t " style="left:697.2px;width:600px;margin-left:-300px;text-align:center;top:338.00px;font-size:11.70px;font-weight:bold;">Start of</div>
<div class="t " style="left:697.2px;width:600px;margin-left:-300px;text-align:center;top:351.70px;font-size:11.70px;font-weight:bold;">Water Year</div>
<div class="t " style="left:697.2px;width:600px;margin-left:-300px;text-align:center;top:364.65px;font-size:8.80px;font-style:italic;">09-26-2023</div>
<div class="t " style="left:764.9px;width:600px;margin-left:-300px;text-align:center;top:351.35px;font-size:11.40px;">57.69</div>
<div class="t " style="left:807.0px;width:600px;margin-left:-300px;text-align:center;top:351.35px;font-size:11.40px;">42.31</div>
<div class="t " style="left:849.0px;width:600px;margin-left:-300px;text-align:center;top:351.35px;font-size:11.40px;">26.84</div>
<div class="t " style="left:891.1px;width:600px;margin-left:-300px;text-align:center;top:351.35px;font-size:11.40px;">15.07</div>
<div class="t " style="left:933.2px;width:600px;margin-left:-300px;text-align:center;top:351.35px;font-size:11.40px;">5.46</div>
<div class="t " style="left:975.2px;width:600px;margin-left:-300px;text-align:center;top:351.35px;font-size:11.40px;">0.97</div>
<div class="t " style="left:697.2px;width:600px;margin-left:-300px;text-align:center;top:386.25px;font-size:11.70px;font-weight:bold;">One Year Ago</div>
<div class="t " style="left:697.2px;width:600px;margin-left:-300px;text-align:center;top:402.70px;font-size:8.80px;font-style:italic;">10-25-2022</div>
<div class="t " style="left:764.9px;width:600px;margin-left:-300px;text-align:center;top:393.30px;font-size:11.40px;">6.48</div>
<div class="t " style="left:807.0px;width:600px;margin-left:-300px;text-align:center;top:393.30px;font-size:11.40px;">93.52</div>
<div class="t " style="left:849.0px;width:600px;margin-left:-300px;text-align:center;top:393.30px;font-size:11.40px;">73.76</div>
<div class="t " style="left:891.1px;width:600px;margin-left:-300px;text-align:center;top:393.30px;font-size:11.40px;">40.79</div>
<div class="t " style="left:933.2px;width:600px;margin-left:-300px;text-align:center;top:393.30px;font-size:11.40px;">20.33</div>
<div class="t " style="left:975.2px;width:600px;margin-left:-300px;text-align:center;top:393.30px;font-size:11.40px;">7.45</div>
<div class="t " style="left:652.0px;top:433.23px;font-size:15.20px;font-style:italic;text-decoration:underline;">Intensity:</div>
<div style="position:absolute;left:651.50px;top:456.80px;width:30.50px;height:13.80px;background:#fff;border:1px solid #6e6e6e;box-sizing:content-box;"></div>
<div class="t " style="left:689.5px;top:458.82px;font-size:12.85px;">None</div>
<div style="position:absolute;left:651.50px;top:480.30px;width:30.50px;height:13.80px;background:#ffff00;border:1px solid #6e6e6e;box-sizing:content-box;"></div>
<div class="t " style="left:689.5px;top:482.32px;font-size:12.85px;">D0 Abnormally Dry</div>
<div style="position:absolute;left:651.50px;top:504.50px;width:30.50px;height:13.80px;background:#fcd37f;border:1px solid #6e6e6e;box-sizing:content-box;"></div>
<div class="t " style="left:689.5px;top:506.52px;font-size:12.85px;">D1 Moderate Drought</div>
<div style="position:absolute;left:828.40px;top:456.80px;width:30.50px;height:13.80px;background:#ffaa00;border:1px solid #6e6e6e;box-sizing:content-box;"></div>
<div class="t " style="left:866.4px;top:458.82px;font-size:12.85px;">D2 Severe Drought</div>
<div style="position:absolute;left:828.40px;top:480.30px;width:30.50px;height:13.80px;background:#e60000;border:1px solid #6e6e6e;box-sizing:content-box;"></div>
<div class="t " style="left:866.4px;top:482.32px;font-size:12.85px;">D3 Extreme Drought</div>
<div style="position:absolute;left:828.40px;top:504.50px;width:30.50px;height:13.80px;background:#730000;border:1px solid #6e6e6e;box-sizing:content-box;"></div>
<div class="t " style="left:866.4px;top:506.52px;font-size:12.85px;">D4 Exceptional Drought</div>
<div class="t " style="left:652.0px;top:538.06px;font-size:12.10px;font-style:italic;">The Drought Monitor focuses on broad-scale conditions.</div>
<div class="t " style="left:652.0px;top:551.76px;font-size:12.10px;font-style:italic;">Local conditions may vary. For more information on the</div>
<div class="t " style="left:652.0px;top:565.66px;font-size:12.10px;font-style:italic;">Drought Monitor, go to https://droughtmonitor.unl.edu/About.aspx</div>
<div class="t " style="left:652.0px;top:598.30px;font-size:15.00px;font-style:italic;text-decoration:underline;">Author:</div>
<div class="t " style="left:652.0px;top:619.12px;font-size:13.80px;">Rocky Bilotta</div>
<div class="t " style="left:652.0px;top:637.52px;font-size:13.80px;">NCEI/NOAA</div>
<div class="t " style="left:828.0px;width:600px;margin-left:-300px;text-align:center;top:746.59px;font-size:20.57px;font-weight:bold;">droughtmonitor.unl.edu</div>
<svg width="384" height="80" viewBox="640 665 384 80" style="position:absolute;left:640px;top:665px">
<!-- USDA -->
<text x="651.8" y="700.4" font-family="Liberation Serif" font-weight="bold" font-size="25" fill="#27337c" textLength="60" lengthAdjust="spacingAndGlyphs">USDA</text>
<rect x="652.5" y="702.3" width="59.8" height="22.3" fill="#1f6b4f"/>
<path d="M652.5 708 C672 705.8 692 704.9 712.3 704.6 L712.3 706 C692 706.4 672 707.6 652.5 710.2Z" fill="#fff"/>
<path d="M652.5 711.6 C668 708.3 686 706.9 700 706.6 C686 707.6 668 710.2 652.5 714.6Z" fill="#fff"/>
<path d="M652.5 716.2 C670 709.6 692 706.8 712.3 706.2 L712.3 707.6 C692 708.6 670 711.8 652.5 718.6Z" fill="#fff"/>
<!-- NDMC -->
<circle cx="771.7" cy="704.1" r="31.4" fill="#fff"/>
<circle cx="771.7" cy="704.1" r="25.3" fill="#3f5e2e"/>
<clipPath id="nd"><circle cx="771.7" cy="704.1" r="25.3"/></clipPath>
<g clip-path="url(#nd)">
<path d="M744 712 C750 707 755 712 761 710.5 C766 709 769 706.5 774 710 C780 714 786 711 791 711.5 C795 712 798 710 800 709 L800 735 L744 735Z" fill="#6b80c9"/>
<path d="M744 722 C751 716 757 722 763 719.5 C769 717 773 714 778 718 C783 721.5 789 717 794 716.5 C797 716.2 799 715 801 714 L801 735 L744 735Z" fill="#3b2318"/>
<path d="M755 727.5 L765 722 L772 725.5 L781 719 L791 723.5 L786 725 L781 721.5 L772.5 728 L765 724.5 L758 729Z" fill="#b9a58c"/>
<path d="M766 722 L768 730 M781 720 L779 729" stroke="#b9a58c" stroke-width="0.6" fill="none"/>
</g>
<text x="771.7" y="707" text-anchor="middle" font-family="Liberation Sans" font-weight="bold" font-size="18.5" fill="#fff" stroke="#fff" stroke-width="0.5" textLength="39.5" lengthAdjust="spacingAndGlyphs">NDMC</text>
<path id="ndt" d="M744.6 712 A28.2 28.2 0 1 1 798.8 712" fill="none"/>
<text font-family="Liberation Sans" font-weight="bold" font-size="4.8" fill="#2a2a2a"><textPath href="#ndt" startOffset="50%" text-anchor="middle" textLength="98">NATIONAL DROUGHT MITIGATION CENTER</textPath></text>
<path id="ndb" d="M745.5 716 A29.3 29.3 0 0 0 797.9 716" fill="none"/>
<text font-family="Liberation Sans" font-weight="bold" font-size="4.4" fill="#2a2a2a"><textPath href="#ndb" startOffset="50%" text-anchor="middle" textLength="50">UNIVERSITY OF NEBRASKA</textPath></text>
<circle cx="743.6" cy="714" r="0.8" fill="#2a2a2a"/><circle cx="799.8" cy="714" r="0.8" fill="#2a2a2a"/>
<!-- DOC -->
<circle cx="859.9" cy="703.7" r="30.4" fill="#3a82cf" stroke="#1c3f7a" stroke-width="0.9"/>
<circle cx="859.9" cy="703.7" r="24" fill="#fff" stroke="#1c3f7a" stroke-width="0.9"/>
<path id="dct" d="M834.3 709.5 A26.2 26.2 0 1 1 885.5 709.5" fill="none"/>
<text font-family="Liberation Sans" font-weight="bold" font-size="4.9" fill="#fff"><textPath href="#dct" startOffset="50%" text-anchor="middle" textLength="86">DEPARTMENT OF COMMERCE</textPath></text>
<path id="dcb" d="M832.6 712 A28.6 28.6 0 0 0 887.2 712" fill="none"/>
<text font-family="Liberation Sans" font-weight="bold" font-size="4.6" fill="#fff"><textPath href="#dcb" startOffset="50%" text-anchor="middle" textLength="64">UNITED STATES OF AMERICA</textPath></text>
<rect x="830.6" y="703" width="1.6" height="1.6" fill="#fff"/><rect x="887.6" y="703" width="1.6" height="1.6" fill="#fff"/>
<path d="M846.6 699 L873.2 699 L873.2 708.6 L846.6 708.6Z" fill="#3a8bd8"/>
<path d="M846.6 708.6 L873.2 708.6 L873.2 716.5 C873.2 720.5 866.5 722 859.9 724.2 C853.3 722 846.6 720.5 846.6 716.5Z" fill="#f0b731"/>
<path d="M846 699 L873.8 699 L873.2 700.5 L873.2 716.5 C873.2 720.5 866.5 722 859.9 724.2 C853.3 722 846.6 720.5 846.6 716.5 L846.6 700.5Z" fill="none" stroke="#23314f" stroke-width="0.7"/>
<path d="M851.5 707.6 L853 704 L855.5 706 L857 701.5 L859.5 705.5 L861.5 701 L863.5 705.5 L866.5 703 L868 707.6Z" fill="#161616"/>
<rect x="858.9" y="711" width="2" height="11.5" fill="#161616"/>
<path d="M852 683.5 L856.8 688.8 L859.9 687.2 L863 688.8 L868.2 683.2 L866.5 690.5 L862.8 693.2 L864.5 696.2 L859.9 697.2 L855.3 696.2 L857 693.2 L853.5 690.5Z" fill="#e3a722" stroke="#4a3510" stroke-width="0.5"/>
<!-- NOAA -->
<clipPath id="no"><circle cx="948.7" cy="703.7" r="30.7"/></clipPath>
<circle cx="948.7" cy="703.7" r="30.7" fill="#118fd6"/>
<g clip-path="url(#no)">
<path d="M918 690 L924 676 L948 668 L973 676 L982 690 L955 716 L942 719Z" fill="#fff"/>
<path d="M924.7 684.8 L928 672 L948.7 670 L969.5 672 L972.8 684.8 L962.5 699.5 L951.4 708 L936.5 698.5Z" fill="#00237f"/>
<path d="M938.5 717.4 L947.5 713.3 L962.9 708.4 L964 710.2 L958 713 L951.8 716.6 L945 718.4 L939.6 719Z" fill="#fff"/>
<path d="M917.5 691 C925 695 934 703 944.5 714.5 L941 718 C932 707 924 700 917 696.5Z" fill="#fff"/>
<path d="M952 711.5 C960 703 969 695 980.5 689 L981 693.5 C971 699 962 706 955.5 714Z" fill="#fff"/>
</g>
<text x="948.5" y="693" text-anchor="middle" font-family="Liberation Sans" font-weight="bold" font-size="10.5" fill="#fff" textLength="25.6" lengthAdjust="spacingAndGlyphs">NOAA</text>
</svg>
</body></html>
